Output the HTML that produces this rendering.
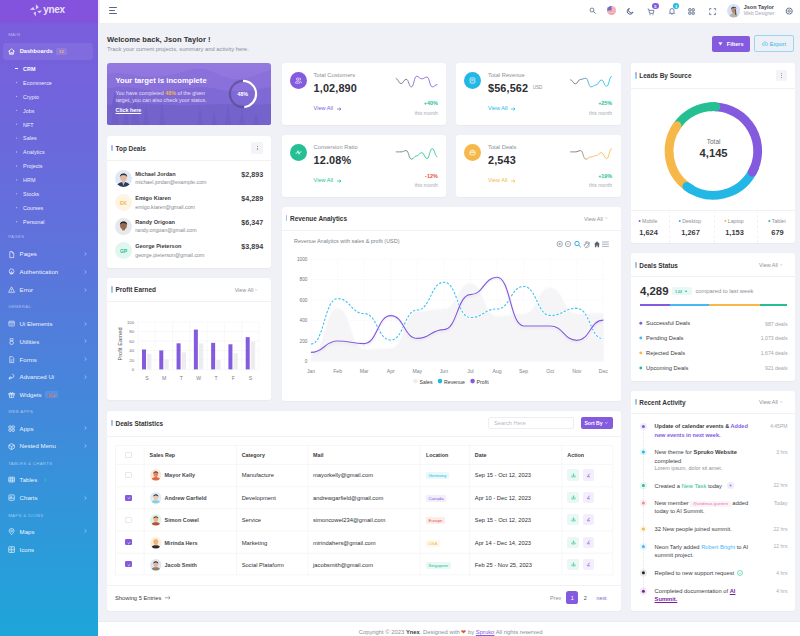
<!DOCTYPE html><html><head><meta charset="utf-8"><style>
html,body{margin:0;padding:0;width:800px;height:636px;overflow:hidden;background:#f0f1f7;font-family:"Liberation Sans",sans-serif;}
.t{position:absolute;white-space:nowrap;}
.card{position:absolute;background:#fff;border-radius:3px;box-shadow:0 0.5px 1.5px rgba(0,0,0,0.03);}
.hb{position:absolute;height:0;border-top:0.5px solid #f1f1f4;}
svg{position:absolute;overflow:visible;}
</style></head><body>

<div style="position:absolute;left:0;top:0;width:98px;height:636px;background:linear-gradient(180deg,#7d5bdc 0%,#5f72dc 38%,#1da6d9 100%);"></div>
<div style="position:absolute;left:0;top:0;width:98px;height:22.6px;background:#8453de;"></div>
<div style="position:absolute;left:98px;top:0;width:1.7px;height:636px;background:rgba(240,240,250,0.85);"></div>
<svg style="left:0;top:0" width="98" height="23">
<path d="M29.8 9.7 L33.2 7.0 L35.0 10.0 Z" fill="rgba(255,255,255,0.72)"/>
<path d="M35.9 4.2 L38.9 7.3 L35.9 9.4 Z" fill="rgba(255,255,255,0.72)"/>
<path d="M37.3 10.9 L42.2 10.6 L39.4 13.2 Z" fill="rgba(255,255,255,0.72)"/>
<path d="M33.4 13.0 L35.9 11.4 L35.9 16.4 Z" fill="rgba(255,255,255,0.72)"/>
</svg>
<div class="t" style="left:43.20px;top:4.90px;font-size:10px;line-height:10px;font-weight:700;color:rgba(255,255,255,0.85);letter-spacing:-0.3px;">ynex</div>
<div class="t" style="left:8.20px;top:33.25px;font-size:4.3px;line-height:4.3px;font-weight:400;color:rgba(255,255,255,0.5);letter-spacing:0.35px;">MAIN</div>
<div style="position:absolute;left:2.5px;top:43px;width:90px;height:16.5px;border-radius:3px;background:rgba(255,255,255,0.08);"></div>
<div class="t" style="left:19.70px;top:49.35px;font-size:5.7px;line-height:5.7px;font-weight:700;color:#fff;">Dashboards</div>
<div style="position:absolute;left:56px;top:48px;width:10.5px;height:7px;border-radius:1.5px;background:rgba(255,255,255,0.1);"></div>
<div class="t" style="left:61.20px;transform:translateX(-50%);top:50.20px;font-size:4.2px;line-height:4.2px;font-weight:700;color:#f7b84b;">12</div>
<svg style="left:8px;top:47.6px" width="7" height="7" viewBox="0 0 24 24"><path d="M2.5 11 L12 3 L21.5 11 M5 9 V21 H19 V9 M9.5 21 V15 H14.5 V21" fill="none" stroke="#fff" stroke-width="2.6" stroke-linejoin="round" stroke-linecap="round"/></svg>
<div style="position:absolute;left:15.10px;top:68.05px;width:3.30px;height:0.70px;background:rgba(255,255,255,0.95);"></div>
<div class="t" style="left:23.10px;top:66.70px;font-size:5.4px;line-height:5.4px;font-weight:700;color:#fff;">CRM</div>
<svg style="left:0;top:0" width="30" height="636"><circle cx="16.6" cy="82.50" r="0.65" fill="rgba(255,255,255,0.55)"/></svg>
<div class="t" style="left:23.10px;top:80.80px;font-size:5.4px;line-height:5.4px;font-weight:400;color:rgba(255,255,255,0.92);">Ecommerce</div>
<svg style="left:0;top:0" width="30" height="636"><circle cx="16.6" cy="96.40" r="0.65" fill="rgba(255,255,255,0.55)"/></svg>
<div class="t" style="left:23.10px;top:94.70px;font-size:5.4px;line-height:5.4px;font-weight:400;color:rgba(255,255,255,0.92);">Crypto</div>
<svg style="left:0;top:0" width="30" height="636"><circle cx="16.6" cy="110.30" r="0.65" fill="rgba(255,255,255,0.55)"/></svg>
<div class="t" style="left:23.10px;top:108.60px;font-size:5.4px;line-height:5.4px;font-weight:400;color:rgba(255,255,255,0.92);">Jobs</div>
<svg style="left:0;top:0" width="30" height="636"><circle cx="16.6" cy="124.20" r="0.65" fill="rgba(255,255,255,0.55)"/></svg>
<div class="t" style="left:23.10px;top:122.50px;font-size:5.4px;line-height:5.4px;font-weight:400;color:rgba(255,255,255,0.92);">NFT</div>
<svg style="left:0;top:0" width="30" height="636"><circle cx="16.6" cy="138.10" r="0.65" fill="rgba(255,255,255,0.55)"/></svg>
<div class="t" style="left:23.10px;top:136.40px;font-size:5.4px;line-height:5.4px;font-weight:400;color:rgba(255,255,255,0.92);">Sales</div>
<svg style="left:0;top:0" width="30" height="636"><circle cx="16.6" cy="152.00" r="0.65" fill="rgba(255,255,255,0.55)"/></svg>
<div class="t" style="left:23.10px;top:150.30px;font-size:5.4px;line-height:5.4px;font-weight:400;color:rgba(255,255,255,0.92);">Analytics</div>
<svg style="left:0;top:0" width="30" height="636"><circle cx="16.6" cy="166.00" r="0.65" fill="rgba(255,255,255,0.55)"/></svg>
<div class="t" style="left:23.10px;top:164.30px;font-size:5.4px;line-height:5.4px;font-weight:400;color:rgba(255,255,255,0.92);">Projects</div>
<svg style="left:0;top:0" width="30" height="636"><circle cx="16.6" cy="179.90" r="0.65" fill="rgba(255,255,255,0.55)"/></svg>
<div class="t" style="left:23.10px;top:178.20px;font-size:5.4px;line-height:5.4px;font-weight:400;color:rgba(255,255,255,0.92);">HRM</div>
<svg style="left:0;top:0" width="30" height="636"><circle cx="16.6" cy="193.80" r="0.65" fill="rgba(255,255,255,0.55)"/></svg>
<div class="t" style="left:23.10px;top:192.10px;font-size:5.4px;line-height:5.4px;font-weight:400;color:rgba(255,255,255,0.92);">Stocks</div>
<svg style="left:0;top:0" width="30" height="636"><circle cx="16.6" cy="207.70" r="0.65" fill="rgba(255,255,255,0.55)"/></svg>
<div class="t" style="left:23.10px;top:206.00px;font-size:5.4px;line-height:5.4px;font-weight:400;color:rgba(255,255,255,0.92);">Courses</div>
<svg style="left:0;top:0" width="30" height="636"><circle cx="16.6" cy="221.70" r="0.65" fill="rgba(255,255,255,0.55)"/></svg>
<div class="t" style="left:23.10px;top:220.00px;font-size:5.4px;line-height:5.4px;font-weight:400;color:rgba(255,255,255,0.92);">Personal</div>
<div class="t" style="left:8.20px;top:235.25px;font-size:4.3px;line-height:4.3px;font-weight:400;color:rgba(255,255,255,0.5);letter-spacing:0.35px;">PAGES</div>
<svg style="left:7.8px;top:250.5px" width="7.2" height="7.2" viewBox="0 0 24 24"><path d="M6 2 H14 L19 7 V22 H6 Z M14 2 V7 H19" fill="none" stroke="rgba(255,255,255,0.85)" stroke-width="2.4" stroke-linejoin="round"/></svg>
<div class="t" style="left:19.60px;top:251.45px;font-size:6.1px;line-height:6.1px;font-weight:400;color:rgba(255,255,255,0.94);">Pages</div>
<svg style="left:84.2px;top:252.1px" width="3" height="4" viewBox="0 0 3 4"><path d="M0.6 0.4 L2.3 2 L0.6 3.6" fill="none" stroke="rgba(255,255,255,0.7)" stroke-width="0.6"/></svg>
<svg style="left:7.8px;top:268.40000000000003px" width="7.2" height="7.2" viewBox="0 0 24 24"><circle cx="12" cy="11" r="8" fill="none" stroke="rgba(255,255,255,0.85)" stroke-width="2.4"/><path d="M8 21 V14 M12 22 V10 M16 21 V14" stroke="rgba(255,255,255,0.85)" stroke-width="2.2" fill="none"/></svg>
<div class="t" style="left:19.60px;top:269.35px;font-size:6.1px;line-height:6.1px;font-weight:400;color:rgba(255,255,255,0.94);">Authentication</div>
<svg style="left:84.2px;top:270.0px" width="3" height="4" viewBox="0 0 3 4"><path d="M0.6 0.4 L2.3 2 L0.6 3.6" fill="none" stroke="rgba(255,255,255,0.7)" stroke-width="0.6"/></svg>
<svg style="left:7.8px;top:286.1px" width="7.2" height="7.2" viewBox="0 0 24 24"><path d="M12 3 L22 21 H2 Z" fill="none" stroke="rgba(255,255,255,0.85)" stroke-width="2.4" stroke-linejoin="round"/><path d="M12 10 V15 M12 17.5 V19" stroke="rgba(255,255,255,0.85)" stroke-width="2.4"/></svg>
<div class="t" style="left:19.60px;top:287.05px;font-size:6.1px;line-height:6.1px;font-weight:400;color:rgba(255,255,255,0.94);">Error</div>
<svg style="left:84.2px;top:287.7px" width="3" height="4" viewBox="0 0 3 4"><path d="M0.6 0.4 L2.3 2 L0.6 3.6" fill="none" stroke="rgba(255,255,255,0.7)" stroke-width="0.6"/></svg>
<div class="t" style="left:8.20px;top:304.75px;font-size:4.3px;line-height:4.3px;font-weight:400;color:rgba(255,255,255,0.5);letter-spacing:0.35px;">GENERAL</div>
<svg style="left:7.8px;top:320.2px" width="7.2" height="7.2" viewBox="0 0 24 24"><rect x="3" y="4" width="18" height="16" rx="2" fill="none" stroke="rgba(255,255,255,0.85)" stroke-width="2.4"/><path d="M3 9 H21 M8 14 H16" stroke="rgba(255,255,255,0.85)" stroke-width="2.4"/></svg>
<div class="t" style="left:19.60px;top:321.15px;font-size:6.1px;line-height:6.1px;font-weight:400;color:rgba(255,255,255,0.94);">Ui Elements</div>
<svg style="left:84.2px;top:321.79999999999995px" width="3" height="4" viewBox="0 0 3 4"><path d="M0.6 0.4 L2.3 2 L0.6 3.6" fill="none" stroke="rgba(255,255,255,0.7)" stroke-width="0.6"/></svg>
<svg style="left:7.8px;top:337.8px" width="7.2" height="7.2" viewBox="0 0 24 24"><rect x="7" y="2" width="10" height="7" rx="1" fill="none" stroke="rgba(255,255,255,0.85)" stroke-width="2.4"/><circle cx="12" cy="16" r="6" fill="none" stroke="rgba(255,255,255,0.85)" stroke-width="2.4"/></svg>
<div class="t" style="left:19.60px;top:338.75px;font-size:6.1px;line-height:6.1px;font-weight:400;color:rgba(255,255,255,0.94);">Utilities</div>
<svg style="left:84.2px;top:339.4px" width="3" height="4" viewBox="0 0 3 4"><path d="M0.6 0.4 L2.3 2 L0.6 3.6" fill="none" stroke="rgba(255,255,255,0.7)" stroke-width="0.6"/></svg>
<svg style="left:7.8px;top:355.7px" width="7.2" height="7.2" viewBox="0 0 24 24"><path d="M6 2 H14 L19 7 V22 H6 Z" fill="none" stroke="rgba(255,255,255,0.85)" stroke-width="2.4" stroke-linejoin="round"/><path d="M9 13 H16 M9 17 H14" stroke="rgba(255,255,255,0.85)" stroke-width="2"/></svg>
<div class="t" style="left:19.60px;top:356.65px;font-size:6.1px;line-height:6.1px;font-weight:400;color:rgba(255,255,255,0.94);">Forms</div>
<svg style="left:84.2px;top:357.29999999999995px" width="3" height="4" viewBox="0 0 3 4"><path d="M0.6 0.4 L2.3 2 L0.6 3.6" fill="none" stroke="rgba(255,255,255,0.7)" stroke-width="0.6"/></svg>
<svg style="left:7.8px;top:373.40000000000003px" width="7.2" height="7.2" viewBox="0 0 24 24"><path d="M4 20 L10 14 M14 4 A6 6 0 1 1 8 12 L4 16 V20 H8 L12 16" fill="none" stroke="rgba(255,255,255,0.85)" stroke-width="2.4" stroke-linejoin="round"/></svg>
<div class="t" style="left:19.60px;top:374.35px;font-size:6.1px;line-height:6.1px;font-weight:400;color:rgba(255,255,255,0.94);">Advanced Ui</div>
<svg style="left:84.2px;top:375.0px" width="3" height="4" viewBox="0 0 3 4"><path d="M0.6 0.4 L2.3 2 L0.6 3.6" fill="none" stroke="rgba(255,255,255,0.7)" stroke-width="0.6"/></svg>
<svg style="left:7.8px;top:391.3px" width="7.2" height="7.2" viewBox="0 0 24 24"><rect x="3" y="8" width="18" height="5" fill="none" stroke="rgba(255,255,255,0.85)" stroke-width="2.4"/><path d="M5 13 V22 H19 V13 M12 8 V22 M12 8 C9 3 5 5 8 8 M12 8 C15 3 19 5 16 8" fill="none" stroke="rgba(255,255,255,0.85)" stroke-width="2.2"/></svg>
<div class="t" style="left:19.60px;top:392.25px;font-size:6.1px;line-height:6.1px;font-weight:400;color:rgba(255,255,255,0.94);">Widgets</div>
<div style="position:absolute;left:45.3px;top:391.4px;width:12.6px;height:6.3px;border-radius:1.5px;background:rgba(255,255,255,0.1);"></div>
<div class="t" style="left:51.60px;transform:translateX(-50%);top:393.55px;font-size:3.9px;line-height:3.9px;font-weight:700;color:#f0664e;">Hot</div>
<div class="t" style="left:8.20px;top:409.85px;font-size:4.3px;line-height:4.3px;font-weight:400;color:rgba(255,255,255,0.5);letter-spacing:0.35px;">WEB APPS</div>
<svg style="left:7.8px;top:424.7px" width="7.2" height="7.2" viewBox="0 0 24 24"><rect x="3" y="3" width="7.5" height="7.5" rx="1" fill="none" stroke="rgba(255,255,255,0.85)" stroke-width="2.4"/><rect x="13.5" y="3" width="7.5" height="7.5" rx="1" fill="none" stroke="rgba(255,255,255,0.85)" stroke-width="2.4"/><rect x="3" y="13.5" width="7.5" height="7.5" rx="1" fill="none" stroke="rgba(255,255,255,0.85)" stroke-width="2.4"/><rect x="13.5" y="13.5" width="7.5" height="7.5" rx="1" fill="none" stroke="rgba(255,255,255,0.85)" stroke-width="2.4"/></svg>
<div class="t" style="left:19.60px;top:425.65px;font-size:6.1px;line-height:6.1px;font-weight:400;color:rgba(255,255,255,0.94);">Apps</div>
<svg style="left:84.2px;top:426.29999999999995px" width="3" height="4" viewBox="0 0 3 4"><path d="M0.6 0.4 L2.3 2 L0.6 3.6" fill="none" stroke="rgba(255,255,255,0.7)" stroke-width="0.6"/></svg>
<svg style="left:7.8px;top:442.5px" width="7.2" height="7.2" viewBox="0 0 24 24"><path d="M12 2 L21 7 V17 L12 22 L3 17 V7 Z M3 7 L12 12 L21 7 M12 12 V22" fill="none" stroke="rgba(255,255,255,0.85)" stroke-width="2.4" stroke-linejoin="round"/></svg>
<div class="t" style="left:19.60px;top:443.45px;font-size:6.1px;line-height:6.1px;font-weight:400;color:rgba(255,255,255,0.94);">Nested Menu</div>
<svg style="left:84.2px;top:444.09999999999997px" width="3" height="4" viewBox="0 0 3 4"><path d="M0.6 0.4 L2.3 2 L0.6 3.6" fill="none" stroke="rgba(255,255,255,0.7)" stroke-width="0.6"/></svg>
<div class="t" style="left:8.20px;top:462.05px;font-size:4.3px;line-height:4.3px;font-weight:400;color:rgba(255,255,255,0.5);letter-spacing:0.35px;">TABLES &amp; CHARTS</div>
<svg style="left:7.8px;top:476.0px" width="7.2" height="7.2" viewBox="0 0 24 24"><rect x="2.5" y="4" width="19" height="16" rx="1.5" fill="none" stroke="rgba(255,255,255,0.85)" stroke-width="2.4"/><path d="M2.5 9.5 H21.5 M2.5 14.5 H21.5 M9 4 V20 M15 4 V20" stroke="rgba(255,255,255,0.85)" stroke-width="2"/></svg>
<div class="t" style="left:19.60px;top:476.95px;font-size:6.1px;line-height:6.1px;font-weight:400;color:rgba(255,255,255,0.94);">Tables</div>
<svg style="left:43.6px;top:477.6px" width="3" height="4" viewBox="0 0 3 4"><path d="M0.6 0.4 L2.3 2 L0.6 3.6" fill="none" stroke="#2fd39a" stroke-width="0.8"/></svg>
<svg style="left:7.8px;top:494.2px" width="7.2" height="7.2" viewBox="0 0 24 24"><rect x="3" y="3" width="18" height="18" rx="2" fill="none" stroke="rgba(255,255,255,0.85)" stroke-width="2.4"/><path d="M3 14 H21 M8 14 V8 M12 14 V6" stroke="rgba(255,255,255,0.85)" stroke-width="2.2"/></svg>
<div class="t" style="left:19.60px;top:495.15px;font-size:6.1px;line-height:6.1px;font-weight:400;color:rgba(255,255,255,0.94);">Charts</div>
<svg style="left:84.2px;top:495.79999999999995px" width="3" height="4" viewBox="0 0 3 4"><path d="M0.6 0.4 L2.3 2 L0.6 3.6" fill="none" stroke="rgba(255,255,255,0.7)" stroke-width="0.6"/></svg>
<div class="t" style="left:8.20px;top:513.75px;font-size:4.3px;line-height:4.3px;font-weight:400;color:rgba(255,255,255,0.5);letter-spacing:0.35px;">MAPS &amp; ICONS</div>
<svg style="left:7.8px;top:527.6999999999999px" width="7.2" height="7.2" viewBox="0 0 24 24"><path d="M12 22 C5 15 4 12 4 9.5 A8 8 0 0 1 20 9.5 C20 12 19 15 12 22 Z" fill="none" stroke="rgba(255,255,255,0.85)" stroke-width="2.4"/><circle cx="12" cy="10" r="3" fill="none" stroke="rgba(255,255,255,0.85)" stroke-width="2.2"/></svg>
<div class="t" style="left:19.60px;top:528.65px;font-size:6.1px;line-height:6.1px;font-weight:400;color:rgba(255,255,255,0.94);">Maps</div>
<svg style="left:84.2px;top:529.3px" width="3" height="4" viewBox="0 0 3 4"><path d="M0.6 0.4 L2.3 2 L0.6 3.6" fill="none" stroke="rgba(255,255,255,0.7)" stroke-width="0.6"/></svg>
<svg style="left:7.8px;top:545.8px" width="7.2" height="7.2" viewBox="0 0 24 24"><rect x="2.5" y="2.5" width="19" height="19" rx="1.5" fill="none" stroke="rgba(255,255,255,0.85)" stroke-width="2.4"/><path d="M2.5 12 H21.5 M12 2.5 V21.5 M6 6 L8.5 8.5 M15.5 6 L18 8.5 M6 16 H9 M15 16 H18" stroke="rgba(255,255,255,0.85)" stroke-width="2"/></svg>
<div class="t" style="left:19.60px;top:546.75px;font-size:6.1px;line-height:6.1px;font-weight:400;color:rgba(255,255,255,0.94);">Icons</div>
<div style="position:absolute;left:99.70px;top:0.00px;width:700.30px;height:22.60px;background:#fff;box-shadow:0 0.5px 0 #ebebf2;"></div>
<div style="position:absolute;left:109.30px;top:7.40px;width:7.30px;height:0.80px;background:#536485;border-radius:0.4px;"></div>
<div style="position:absolute;left:109.30px;top:10.40px;width:6.20px;height:0.80px;background:#536485;border-radius:0.4px;"></div>
<div style="position:absolute;left:109.30px;top:13.40px;width:7.30px;height:0.80px;background:#536485;border-radius:0.4px;"></div>
<svg style="left:588.5px;top:7.4px" width="7.2" height="7.2" viewBox="0 0 24 24"><circle cx="10" cy="10" r="6.5" fill="none" stroke="#536485" stroke-width="2.6"/><path d="M15 15 L21 21" stroke="#536485" stroke-width="2.8" stroke-linecap="round"/></svg>
<svg style="left:607.3px;top:6.3px" width="9" height="9" viewBox="0 0 20 20"><defs><clipPath id="fc"><circle cx="10" cy="10" r="10"/></clipPath></defs><g clip-path="url(#fc)"><rect width="20" height="20" fill="#f2a3ab"/><rect y="3" width="20" height="2" fill="#f7c2c7"/><rect y="8" width="20" height="2" fill="#f7c2c7"/><rect y="13" width="20" height="2" fill="#f7c2c7"/><rect width="10" height="10" fill="#6f6fc0"/></g></svg>
<svg style="left:626.2px;top:6.8px" width="8.4" height="8.4" viewBox="0 0 24 24"><path d="M20 14.5 A8.5 8.5 0 1 1 9.5 4 A7 7 0 0 0 20 14.5 Z" fill="none" stroke="#536485" stroke-width="2.8" stroke-linejoin="round"/></svg>
<svg style="left:646.6px;top:8px" width="8" height="8" viewBox="0 0 24 24"><path d="M2 3 H5 L8 16 H19 L21 7 H6.5" fill="none" stroke="#536485" stroke-width="2.3" stroke-linejoin="round"/><circle cx="9" cy="20" r="1.6" fill="#536485"/><circle cx="18" cy="20" r="1.6" fill="#536485"/></svg>
<div style="position:absolute;left:652.20px;top:2.90px;width:6.50px;height:6.50px;background:#845adf;border-radius:50%;"></div>
<div class="t" style="left:655.40px;transform:translateX(-50%);top:5.15px;font-size:3.9px;line-height:3.9px;font-weight:700;color:#fff;">5</div>
<svg style="left:667.6px;top:7.3px" width="8" height="8" viewBox="0 0 24 24"><path d="M6 17 V10.5 A6 6 0 0 1 18 10.5 V17 L20 19 H4 Z M10 21.5 H14" fill="none" stroke="#536485" stroke-width="2.3" stroke-linejoin="round"/></svg>
<div style="position:absolute;left:672.80px;top:2.90px;width:6.50px;height:6.50px;background:#23b7e5;border-radius:50%;"></div>
<div class="t" style="left:676.00px;transform:translateX(-50%);top:5.15px;font-size:3.9px;line-height:3.9px;font-weight:700;color:#fff;">3</div>
<svg style="left:688.3px;top:8.1px" width="7" height="7" viewBox="0 0 24 24"><rect x="2.5" y="2.5" width="7.5" height="7.5" rx="0.8" fill="none" stroke="#536485" stroke-width="2.8"/><rect x="14" y="2.5" width="7.5" height="7.5" rx="0.8" fill="none" stroke="#536485" stroke-width="2.8"/><rect x="2.5" y="14" width="7.5" height="7.5" rx="0.8" fill="none" stroke="#536485" stroke-width="2.8"/><rect x="14" y="14" width="7.5" height="7.5" rx="0.8" fill="none" stroke="#536485" stroke-width="2.8"/></svg>
<svg style="left:708.8px;top:7.6px" width="7.2" height="7.2" viewBox="0 0 24 24"><path d="M2 8 V2 H8 M16 2 H22 V8 M22 16 V22 H16 M8 22 H2 V16" fill="none" stroke="#536485" stroke-width="2.6"/></svg>
<svg style="left:726.7px;top:4px" width="13.4" height="13.4" viewBox="0 0 40 40"><defs><clipPath id="av"><circle cx="20" cy="20" r="20"/></clipPath></defs><g clip-path="url(#av)"><rect width="40" height="40" fill="#d6e1f6"/><path d="M6 42 C7 32 13 28 20 28 C27 28 33 32 34 42 Z" fill="#bdb3a4"/><rect x="17" y="23" width="6" height="6" fill="#b58a6c"/><ellipse cx="19.5" cy="18" rx="6.5" ry="7.5" fill="#b58a6c"/><path d="M12 17 C10 6 29 5 27.5 15 C26 10 14 10 12 17 Z" fill="#22232a"/><path d="M25 14 C28 18 27 26 28 32 L25 32 C24 26 26 20 24 16 Z" fill="#22232a"/></g></svg>
<div class="t" style="left:743.80px;top:5.07px;font-size:5.45px;line-height:5.45px;font-weight:700;color:#3d4250;">Json Taylor</div>
<div class="t" style="left:743.80px;top:11.77px;font-size:4.85px;line-height:4.85px;font-weight:400;color:#a3a8b3;">Web Designer</div>
<svg style="left:784.6px;top:6.9px" width="8.4" height="8.4" viewBox="0 0 24 24"><path d="M12 2 L14 4.6 L17.3 3.8 L18 7.1 L21 8.6 L19.6 11.7 L21 14.8 L18 16.3 L17.3 19.6 L14 18.8 L12 21.4 L10 18.8 L6.7 19.6 L6 16.3 L3 14.8 L4.4 11.7 L3 8.6 L6 7.1 L6.7 3.8 L10 4.6 Z" fill="none" stroke="#536485" stroke-width="2.5" stroke-linejoin="round"/><circle cx="12" cy="11.7" r="3.3" fill="none" stroke="#536485" stroke-width="2.3"/></svg>
<div class="t" style="left:107.00px;top:36.10px;font-size:7.6px;line-height:7.6px;font-weight:700;color:#333335;">Welcome back, Json Taylor !</div>
<div class="t" style="left:107.00px;top:47.19px;font-size:5.83px;line-height:5.83px;font-weight:400;color:#8c9097;">Track your current projects, summary and activity here.</div>
<div style="position:absolute;left:711.90px;top:35.80px;width:38.10px;height:15.90px;background:#845adf;border-radius:2px;"></div>
<svg style="left:718.3px;top:41.9px" width="4.8" height="3.8" viewBox="0 0 10 8"><path d="M0.5 0.5 H9.5 L5 7.5 Z" fill="rgba(255,255,255,0.9)"/></svg>
<div class="t" style="left:726.80px;top:41.80px;font-size:5.6px;line-height:5.6px;font-weight:700;color:#fff;">Filters</div>
<div style="position:absolute;left:753.50px;top:35.40px;width:40.00px;height:16.30px;background:rgba(35,183,229,0.015);border:0.9px solid rgba(35,183,229,0.42);border-radius:2.2px;box-sizing:border-box;"></div>
<svg style="left:761.6px;top:40.6px" width="6" height="6" viewBox="0 0 24 24"><path d="M7 18 H6 A4.5 4.5 0 0 1 5.5 9 A6.5 6.5 0 0 1 18 8 A5 5 0 0 1 18 18 H17 M12 11 V20 M9 14 L12 11 L15 14" fill="none" stroke="#23b7e5" stroke-width="2.2" stroke-linejoin="round"/></svg>
<div class="t" style="left:769.80px;top:41.80px;font-size:5.6px;line-height:5.6px;font-weight:400;color:#23b7e5;">Export</div>
<div style="position:absolute;left:107px;top:63px;width:164.3px;height:62.2px;border-radius:3px;overflow:hidden;background:linear-gradient(180deg,#9479e0 0%,#8d73dc 40%,#7a66d2 100%);">
<svg style="left:0;top:0" width="165" height="63" viewBox="0 0 165 63">
<path d="M0 12 C15 6 30 16 50 14 C70 12 85 4 97 6 C108 8 118 18 135 16 C150 14 158 6 165 8 V63 H0 Z" fill="#8a70da"/>
<path d="M0 26 C20 20 40 30 60 28 C80 26 95 22 110 26 C130 31 150 26 165 24 V63 H0 Z" fill="#7f69d4"/>
<path d="M0 42 C30 38 60 44 90 42 C120 40 145 43 165 41 V63 H0 Z" fill="#7463cb"/>
<g fill="#6e5dc6" opacity="0.8">
<path d="M4 63 L6 44 L3 50 L8 28 L13 50 L10 44 L12 63 Z"/>
<path d="M16 63 L19 36 L22 63 Z"/>
<path d="M24 63 L27 30 L30 48 L33 63 Z"/>
<path d="M36 63 L39 42 L42 63 Z"/>
<path d="M52 63 L55 38 L58 63 Z"/>
<path d="M90 63 L93 44 L96 63 Z"/>
<path d="M104 63 L107 48 L110 63 Z"/>
<path d="M118 63 L121 40 L124 63 Z"/>
<path d="M132 63 L135 46 L138 63 Z"/>
<path d="M146 63 L149 50 L152 63 Z"/>
</g></svg></div>
<div class="t" style="left:115.50px;top:76.77px;font-size:7.65px;line-height:7.65px;font-weight:700;color:#fff;">Your target is incomplete</div>
<div class="t" style="left:115.50px;top:90.62px;font-size:5.35px;line-height:5.35px;font-weight:400;color:rgba(255,255,255,0.82);">You have completed <span style="color:#f5b849;font-weight:700">48%</span> of the given</div>
<div class="t" style="left:115.50px;top:98.23px;font-size:5.35px;line-height:5.35px;font-weight:400;color:rgba(255,255,255,0.82);">target, you can also check your status.</div>
<div class="t" style="left:115.50px;top:108.20px;font-size:5.4px;line-height:5.4px;font-weight:700;color:#fff;text-decoration:underline;">Click here</div>
<svg style="left:226.5px;top:77.8px" width="32" height="32" viewBox="0 0 32 32"><circle cx="16" cy="16" r="13.1" fill="none" stroke="rgba(80,70,130,0.6)" stroke-width="2.2"/><circle cx="16" cy="16" r="13.1" fill="none" stroke="#fff" stroke-width="2.2" stroke-dasharray="39.51 82.31" transform="rotate(-90 16 16)"/></svg>
<div class="t" style="left:242.60px;transform:translateX(-50%);top:91.90px;font-size:5.4px;line-height:5.4px;font-weight:700;color:#fff;">48%</div>
<div class="card" style="left:281.5px;top:63px;width:164.7px;height:62.2px;"></div>
<div style="position:absolute;left:289.9px;top:71.6px;width:17px;height:17px;border-radius:50%;background:#845adf;"></div>
<svg style="left:294.9px;top:76.6px" width="7" height="7" viewBox="0 0 24 24"><path d="M9 11 A4 4 0 1 0 9 3 A4 4 0 0 0 9 11 Z M2 21 C2 16 5 14 9 14 C13 14 16 16 16 21 Z M15 3 A4 4 0 0 1 15 11 M18 14 C21 15 22 17 22 21" fill="none" stroke="#fff" stroke-width="2.2"/></svg>
<div class="t" style="left:313.60px;top:72.92px;font-size:5.75px;line-height:5.75px;font-weight:400;color:#8c9097;">Total Customers</div>
<div class="t" style="left:313.60px;top:82.55px;font-size:10.9px;line-height:10.9px;font-weight:700;color:#2d2d32;letter-spacing:0.12px;">1,02,890</div>
<div class="t" style="left:313.60px;top:105.90px;font-size:5.6px;line-height:5.6px;font-weight:400;color:#845adf;">View All</div>
<svg style="left:337.0px;top:106.5px" width="5" height="4" viewBox="0 0 10 8"><path d="M0 4 H8 M5 1 L8 4 L5 7" fill="none" stroke="#845adf" stroke-width="1.5"/></svg>
<div class="t" style="right:362.30px;top:101.30px;font-size:5.4px;line-height:5.4px;font-weight:700;color:#26bf94;">+40%</div>
<div class="t" style="right:362.30px;top:110.50px;font-size:5.0px;line-height:5.0px;font-weight:400;color:#a8abb2;">this month</div>
<svg style="left:0;top:0" width="800" height="636"><defs><linearGradient id="sg281_63" gradientUnits="userSpaceOnUse" x1="395.8" x2="437.4" y1="0" y2="0"><stop offset="0" stop-color="#77777d"/><stop offset="0.2" stop-color="#6a6a70"/><stop offset="0.5" stop-color="#845adf"/></linearGradient></defs><path d="M395.80 78.53 C398.40 78.53 398.40 83.61 401.00 83.61 C403.60 83.61 403.60 79.27 406.20 79.27 C408.80 79.27 408.80 86.90 411.40 86.90 C414.00 86.90 414.00 76.30 416.60 76.30 C419.20 76.30 419.20 78.84 421.80 78.84 C424.40 78.84 424.40 77.04 427.00 77.04 C429.60 77.04 429.60 86.90 432.20 86.90 C434.80 86.90 434.80 84.67 437.40 84.67" fill="none" stroke="url(#sg281_63)" stroke-width="0.85"/></svg>
<div class="card" style="left:455.9px;top:63px;width:164.7px;height:62.2px;"></div>
<div style="position:absolute;left:464.29999999999995px;top:71.6px;width:17px;height:17px;border-radius:50%;background:#23b7e5;"></div>
<svg style="left:469.29999999999995px;top:76.6px" width="7" height="7" viewBox="0 0 24 24"><rect x="4" y="3" width="16" height="18" rx="3" fill="none" stroke="#fff" stroke-width="2.4"/><path d="M8 9 H16 M8 13 H16" stroke="#fff" stroke-width="2"/></svg>
<div class="t" style="left:488.00px;top:72.92px;font-size:5.75px;line-height:5.75px;font-weight:400;color:#8c9097;">Total Revenue</div>
<div class="t" style="left:488.00px;top:82.55px;font-size:10.9px;line-height:10.9px;font-weight:700;color:#2d2d32;letter-spacing:0.12px;">$56,562</div>
<div class="t" style="left:532.70px;top:86.10px;font-size:4.6px;line-height:4.6px;font-weight:400;color:#8c9097;">USD</div>
<div class="t" style="left:488.00px;top:105.90px;font-size:5.6px;line-height:5.6px;font-weight:400;color:#23b7e5;">View All</div>
<svg style="left:511.4px;top:106.5px" width="5" height="4" viewBox="0 0 10 8"><path d="M0 4 H8 M5 1 L8 4 L5 7" fill="none" stroke="#23b7e5" stroke-width="1.5"/></svg>
<div class="t" style="right:187.90px;top:101.30px;font-size:5.4px;line-height:5.4px;font-weight:700;color:#26bf94;">+25%</div>
<div class="t" style="right:187.90px;top:110.50px;font-size:5.0px;line-height:5.0px;font-weight:400;color:#a8abb2;">this month</div>
<svg style="left:0;top:0" width="800" height="636"><defs><linearGradient id="sg455_63" gradientUnits="userSpaceOnUse" x1="570.1999999999999" x2="611.8" y1="0" y2="0"><stop offset="0" stop-color="#77777d"/><stop offset="0.2" stop-color="#6a6a70"/><stop offset="0.5" stop-color="#23b7e5"/></linearGradient></defs><path d="M570.20 79.69 C572.80 79.69 572.80 83.83 575.40 83.83 C578.00 83.83 578.00 79.37 580.60 79.37 C583.20 79.37 583.20 78.31 585.80 78.31 C588.40 78.31 588.40 86.90 591.00 86.90 C593.60 86.90 593.60 84.89 596.20 84.89 C598.80 84.89 598.80 80.01 601.40 80.01 C604.00 80.01 604.00 86.26 606.60 86.26 C609.20 86.26 609.20 76.30 611.80 76.30" fill="none" stroke="url(#sg455_63)" stroke-width="0.85"/></svg>
<div class="card" style="left:281.5px;top:135.3px;width:164.7px;height:62.2px;"></div>
<div style="position:absolute;left:289.9px;top:143.9px;width:17px;height:17px;border-radius:50%;background:#26bf94;"></div>
<svg style="left:294.9px;top:148.9px" width="7" height="7" viewBox="0 0 24 24"><path d="M2 14 L7 14 L10 6 L14 18 L17 10 L22 10" fill="none" stroke="#fff" stroke-width="2.6" stroke-linejoin="round"/></svg>
<div class="t" style="left:313.60px;top:145.23px;font-size:5.75px;line-height:5.75px;font-weight:400;color:#8c9097;">Conversion Ratio</div>
<div class="t" style="left:313.60px;top:154.85px;font-size:10.9px;line-height:10.9px;font-weight:700;color:#2d2d32;letter-spacing:0.12px;">12.08%</div>
<div class="t" style="left:313.60px;top:178.20px;font-size:5.6px;line-height:5.6px;font-weight:400;color:#26bf94;">View All</div>
<svg style="left:337.0px;top:178.8px" width="5" height="4" viewBox="0 0 10 8"><path d="M0 4 H8 M5 1 L8 4 L5 7" fill="none" stroke="#26bf94" stroke-width="1.5"/></svg>
<div class="t" style="right:362.30px;top:173.60px;font-size:5.4px;line-height:5.4px;font-weight:700;color:#e6533c;">-12%</div>
<div class="t" style="right:362.30px;top:182.80px;font-size:5.0px;line-height:5.0px;font-weight:400;color:#a8abb2;">this month</div>
<svg style="left:0;top:0" width="800" height="636"><defs><linearGradient id="sg281_135" gradientUnits="userSpaceOnUse" x1="395.8" x2="437.4" y1="0" y2="0"><stop offset="0" stop-color="#77777d"/><stop offset="0.2" stop-color="#6a6a70"/><stop offset="0.5" stop-color="#26bf94"/></linearGradient></defs><path d="M395.80 151.89 C398.40 151.89 398.40 151.89 401.00 151.89 C403.60 151.89 403.60 150.61 406.20 150.61 C408.80 150.61 408.80 159.20 411.40 159.20 C414.00 159.20 414.00 155.91 416.60 155.91 C419.20 155.91 419.20 152.63 421.80 152.63 C424.40 152.63 424.40 158.56 427.00 158.56 C429.60 158.56 429.60 148.60 432.20 148.60 C434.80 148.60 434.80 156.87 437.40 156.87" fill="none" stroke="url(#sg281_135)" stroke-width="0.85"/></svg>
<div class="card" style="left:455.9px;top:135.3px;width:164.7px;height:62.2px;"></div>
<div style="position:absolute;left:464.29999999999995px;top:143.9px;width:17px;height:17px;border-radius:50%;background:#f5b849;"></div>
<svg style="left:469.29999999999995px;top:148.9px" width="7" height="7" viewBox="0 0 24 24"><rect x="3" y="7" width="18" height="13" rx="2" fill="none" stroke="#fff" stroke-width="2.4"/><path d="M9 7 V4 H15 V7 M3 12 H21" stroke="#fff" stroke-width="2.2" fill="none"/></svg>
<div class="t" style="left:488.00px;top:145.23px;font-size:5.75px;line-height:5.75px;font-weight:400;color:#8c9097;">Total Deals</div>
<div class="t" style="left:488.00px;top:154.85px;font-size:10.9px;line-height:10.9px;font-weight:700;color:#2d2d32;letter-spacing:0.12px;">2,543</div>
<div class="t" style="left:488.00px;top:178.20px;font-size:5.6px;line-height:5.6px;font-weight:400;color:#f5b849;">View All</div>
<svg style="left:511.4px;top:178.8px" width="5" height="4" viewBox="0 0 10 8"><path d="M0 4 H8 M5 1 L8 4 L5 7" fill="none" stroke="#f5b849" stroke-width="1.5"/></svg>
<div class="t" style="right:187.90px;top:173.60px;font-size:5.4px;line-height:5.4px;font-weight:700;color:#26bf94;">+19%</div>
<div class="t" style="right:187.90px;top:182.80px;font-size:5.0px;line-height:5.0px;font-weight:400;color:#a8abb2;">this month</div>
<svg style="left:0;top:0" width="800" height="636"><defs><linearGradient id="sg455_135" gradientUnits="userSpaceOnUse" x1="570.1999999999999" x2="611.8" y1="0" y2="0"><stop offset="0" stop-color="#77777d"/><stop offset="0.2" stop-color="#6a6a70"/><stop offset="0.5" stop-color="#f5b849"/></linearGradient></defs><path d="M570.20 151.89 C572.80 151.89 572.80 151.89 575.40 151.89 C578.00 151.89 578.00 150.61 580.60 150.61 C583.20 150.61 583.20 159.20 585.80 159.20 C588.40 159.20 588.40 156.87 591.00 156.87 C593.60 156.87 593.60 155.60 596.20 155.60 C598.80 155.60 598.80 152.63 601.40 152.63 C604.00 152.63 604.00 158.56 606.60 158.56 C609.20 158.56 609.20 148.60 611.80 148.60" fill="none" stroke="url(#sg455_135)" stroke-width="0.85"/></svg>
<div class="card" style="left:107px;top:135.5px;width:164.3px;height:132.3px;"></div>
<div style="position:absolute;left:111.2px;top:144.90px;width:1.5px;height:6.6px;border-radius:1px;background:linear-gradient(180deg,rgba(132,90,223,0.55) 0%,rgba(132,90,223,0.5) 45%,rgba(35,183,229,0.55) 55%,rgba(35,183,229,0.6) 100%);"></div>
<div class="t" style="left:115.50px;top:145.98px;font-size:6.45px;line-height:6.45px;font-weight:700;color:#333335;">Top Deals</div>
<div class="hb" style="left:107px;top:160.4px;width:164.3px;"></div>
<div style="position:absolute;left:251.40px;top:142.40px;width:11.50px;height:11.50px;background:#f3f4f7;border-radius:2px;"></div>
<div style="position:absolute;left:256.75px;top:146.00px;width:0.80px;height:0.80px;background:#6b6f78;border-radius:50%;"></div>
<div style="position:absolute;left:256.75px;top:147.60px;width:0.80px;height:0.80px;background:#6b6f78;border-radius:50%;"></div>
<div style="position:absolute;left:256.75px;top:149.20px;width:0.80px;height:0.80px;background:#6b6f78;border-radius:50%;"></div>
<svg style="left:115px;top:169.7px" width="17" height="17" viewBox="0 0 40 40"><defs><clipPath id="fc115169"><circle cx="20" cy="20" r="20"/></clipPath></defs><g clip-path="url(#fc115169)"><rect width="40" height="40" fill="#dde9f8"/><path d="M3 42 C4 32 11 28 20 28 C29 28 36 32 37 42 Z" fill="#2d3a5a"/><path d="M16.5 28 L20 37 L23.5 28 Z" fill="#a9c4e8"/><rect x="16.5" y="22" width="7" height="7" fill="#e8b89a"/><ellipse cx="20" cy="17.5" rx="8" ry="9" fill="#e8b89a"/><path d="M11.5 17 C9.5 5 30.5 5 28.5 17 C27 10 13 10 11.5 17 Z" fill="#2b2b33"/></g></svg>
<div class="t" style="left:135.20px;top:172.02px;font-size:5.55px;line-height:5.55px;font-weight:700;color:#3a3a40;">Michael Jordan</div>
<div class="t" style="left:135.20px;top:180.45px;font-size:5.3px;line-height:5.3px;font-weight:400;color:#868a92;">michael.jordan@example.com</div>
<div class="t" style="right:536.90px;top:171.72px;font-size:7.15px;line-height:7.15px;font-weight:700;color:#404046;">$2,893</div>
<div style="position:absolute;left:115px;top:194.1px;width:17px;height:17px;border-radius:50%;background:#fef4e4;"></div>
<div class="t" style="left:123.50px;transform:translateX(-50%);top:201.30px;font-size:5.0px;line-height:5.0px;font-weight:700;color:#f5b849;">EK</div>
<div class="t" style="left:135.20px;top:196.42px;font-size:5.55px;line-height:5.55px;font-weight:700;color:#3a3a40;">Emigo Kiaren</div>
<div class="t" style="left:135.20px;top:204.85px;font-size:5.3px;line-height:5.3px;font-weight:400;color:#868a92;">emigo.kiaren@gmail.com</div>
<div class="t" style="right:536.90px;top:196.12px;font-size:7.15px;line-height:7.15px;font-weight:700;color:#404046;">$4,289</div>
<svg style="left:115px;top:217.5px" width="17" height="17" viewBox="0 0 40 40"><defs><clipPath id="fc115217"><circle cx="20" cy="20" r="20"/></clipPath></defs><g clip-path="url(#fc115217)"><rect width="40" height="40" fill="#e4e9f0"/><path d="M3 42 C4 32 11 28 20 28 C29 28 36 32 37 42 Z" fill="#e8e8e8"/><path d="M16.5 28 L20 37 L23.5 28 Z" fill="#e8e8e8"/><rect x="16.5" y="22" width="7" height="7" fill="#9a6a4e"/><ellipse cx="20" cy="17.5" rx="8" ry="9" fill="#9a6a4e"/><path d="M11.5 17 C9.5 5 30.5 5 28.5 17 C27 10 13 10 11.5 17 Z" fill="#2a2220"/></g></svg>
<div class="t" style="left:135.20px;top:219.82px;font-size:5.55px;line-height:5.55px;font-weight:700;color:#3a3a40;">Randy Origoan</div>
<div class="t" style="left:135.20px;top:228.25px;font-size:5.3px;line-height:5.3px;font-weight:400;color:#868a92;">randy.origoan@gmail.com</div>
<div class="t" style="right:536.90px;top:219.53px;font-size:7.15px;line-height:7.15px;font-weight:700;color:#404046;">$6,347</div>
<div style="position:absolute;left:115px;top:241.9px;width:17px;height:17px;border-radius:50%;background:#e2f6f0;"></div>
<div class="t" style="left:123.50px;transform:translateX(-50%);top:249.10px;font-size:5.0px;line-height:5.0px;font-weight:700;color:#26bf94;">GP</div>
<div class="t" style="left:135.20px;top:244.22px;font-size:5.55px;line-height:5.55px;font-weight:700;color:#3a3a40;">George Pieterson</div>
<div class="t" style="left:135.20px;top:252.65px;font-size:5.3px;line-height:5.3px;font-weight:400;color:#868a92;">george.pieterson@gmail.com</div>
<div class="t" style="right:536.90px;top:243.93px;font-size:7.15px;line-height:7.15px;font-weight:700;color:#404046;">$3,894</div>
<div class="card" style="left:107px;top:277.8px;width:164.3px;height:122.5px;"></div>
<div style="position:absolute;left:111.2px;top:286.10px;width:1.5px;height:6.6px;border-radius:1px;background:linear-gradient(180deg,rgba(132,90,223,0.55) 0%,rgba(132,90,223,0.5) 45%,rgba(35,183,229,0.55) 55%,rgba(35,183,229,0.6) 100%);"></div>
<div class="t" style="left:115.50px;top:287.18px;font-size:6.45px;line-height:6.45px;font-weight:700;color:#333335;">Profit Earned</div>
<div class="hb" style="left:107px;top:300.8px;width:164.3px;"></div>
<div class="t" style="right:546.60px;top:287.90px;font-size:5.4px;line-height:5.4px;font-weight:400;color:#8c9097;">View All</div>
<svg style="left:255.40000000000003px;top:288.6px" width="2.6" height="1.8" viewBox="0 0 4 3"><path d="M0.4 0.5 L2 2.2 L3.6 0.5" fill="none" stroke="#8c9097" stroke-width="0.7"/></svg>
<svg style="left:0;top:0" width="800" height="636"><line x1="138" x2="259" y1="322.00" y2="322.00" stroke="#f1f1f3" stroke-width="0.5"/><line x1="138" x2="259" y1="331.48" y2="331.48" stroke="#f1f1f3" stroke-width="0.5"/><line x1="138" x2="259" y1="340.96" y2="340.96" stroke="#f1f1f3" stroke-width="0.5"/><line x1="138" x2="259" y1="350.44" y2="350.44" stroke="#f1f1f3" stroke-width="0.5"/><line x1="138" x2="259" y1="359.92" y2="359.92" stroke="#f1f1f3" stroke-width="0.5"/><line x1="138" x2="259" y1="369.40" y2="369.40" stroke="#f1f1f3" stroke-width="0.5"/><line x1="138.00" x2="138.00" y1="322" y2="369.4" stroke="#f1f1f3" stroke-width="0.5"/><line x1="155.29" x2="155.29" y1="322" y2="369.4" stroke="#f1f1f3" stroke-width="0.5"/><line x1="172.57" x2="172.57" y1="322" y2="369.4" stroke="#f1f1f3" stroke-width="0.5"/><line x1="189.86" x2="189.86" y1="322" y2="369.4" stroke="#f1f1f3" stroke-width="0.5"/><line x1="207.14" x2="207.14" y1="322" y2="369.4" stroke="#f1f1f3" stroke-width="0.5"/><line x1="224.43" x2="224.43" y1="322" y2="369.4" stroke="#f1f1f3" stroke-width="0.5"/><line x1="241.71" x2="241.71" y1="322" y2="369.4" stroke="#f1f1f3" stroke-width="0.5"/><line x1="259.00" x2="259.00" y1="322" y2="369.4" stroke="#f1f1f3" stroke-width="0.5"/><rect x="142.00" y="349.49" width="4" height="19.91" fill="#845adf"/><rect x="147.00" y="353.76" width="4.4" height="15.64" fill="#ededf0"/><rect x="159.29" y="350.44" width="4" height="18.96" fill="#845adf"/><rect x="164.29" y="359.45" width="4.4" height="9.95" fill="#ededf0"/><rect x="176.57" y="343.33" width="4" height="26.07" fill="#845adf"/><rect x="181.57" y="352.34" width="4.4" height="17.06" fill="#ededf0"/><rect x="193.86" y="329.58" width="4" height="39.82" fill="#845adf"/><rect x="198.86" y="343.33" width="4.4" height="26.07" fill="#ededf0"/><rect x="211.14" y="342.86" width="4" height="26.54" fill="#845adf"/><rect x="216.14" y="359.92" width="4.4" height="9.48" fill="#ededf0"/><rect x="228.43" y="344.28" width="4" height="25.12" fill="#845adf"/><rect x="233.43" y="353.28" width="4.4" height="16.12" fill="#ededf0"/><rect x="245.71" y="337.17" width="4" height="32.23" fill="#845adf"/><rect x="250.71" y="341.43" width="4.4" height="27.97" fill="#ededf0"/></svg>
<div class="t" style="right:665.80px;top:320.80px;font-size:4.4px;line-height:4.4px;font-weight:400;color:#6f737b;">100</div>
<div class="t" style="right:665.80px;top:330.28px;font-size:4.4px;line-height:4.4px;font-weight:400;color:#6f737b;">80</div>
<div class="t" style="right:665.80px;top:339.76px;font-size:4.4px;line-height:4.4px;font-weight:400;color:#6f737b;">60</div>
<div class="t" style="right:665.80px;top:349.24px;font-size:4.4px;line-height:4.4px;font-weight:400;color:#6f737b;">40</div>
<div class="t" style="right:665.80px;top:358.72px;font-size:4.4px;line-height:4.4px;font-weight:400;color:#6f737b;">20</div>
<div class="t" style="right:665.80px;top:368.20px;font-size:4.4px;line-height:4.4px;font-weight:400;color:#6f737b;">0</div>
<div class="t" style="left:146.84px;transform:translateX(-50%);top:375.75px;font-size:5.1px;line-height:5.1px;font-weight:400;color:#7b7f87;">S</div>
<div class="t" style="left:164.13px;transform:translateX(-50%);top:375.75px;font-size:5.1px;line-height:5.1px;font-weight:400;color:#7b7f87;">M</div>
<div class="t" style="left:181.41px;transform:translateX(-50%);top:375.75px;font-size:5.1px;line-height:5.1px;font-weight:400;color:#7b7f87;">T</div>
<div class="t" style="left:198.70px;transform:translateX(-50%);top:375.75px;font-size:5.1px;line-height:5.1px;font-weight:400;color:#7b7f87;">W</div>
<div class="t" style="left:215.99px;transform:translateX(-50%);top:375.75px;font-size:5.1px;line-height:5.1px;font-weight:400;color:#7b7f87;">T</div>
<div class="t" style="left:233.27px;transform:translateX(-50%);top:375.75px;font-size:5.1px;line-height:5.1px;font-weight:400;color:#7b7f87;">F</div>
<div class="t" style="left:250.56px;transform:translateX(-50%);top:375.75px;font-size:5.1px;line-height:5.1px;font-weight:400;color:#7b7f87;">S</div>
<div class="t" style="left:121.0px;top:344.2px;font-size:5.7px;line-height:5.7px;color:#4f535b;transform:translate(-50%,-50%) rotate(-90deg);">Profit Earned</div>
<div class="card" style="left:630.8px;top:63px;width:164.7px;height:180.4px;"></div>
<div style="position:absolute;left:635.0px;top:72.30px;width:1.5px;height:6.6px;border-radius:1px;background:linear-gradient(180deg,rgba(132,90,223,0.55) 0%,rgba(132,90,223,0.5) 45%,rgba(35,183,229,0.55) 55%,rgba(35,183,229,0.6) 100%);"></div>
<div class="t" style="left:639.30px;top:73.38px;font-size:6.45px;line-height:6.45px;font-weight:700;color:#333335;">Leads By Source</div>
<div class="hb" style="left:630.8px;top:88.1px;width:164.7px;"></div>
<div style="position:absolute;left:775.70px;top:69.80px;width:11.50px;height:11.50px;background:#f3f4f7;border-radius:2px;"></div>
<div style="position:absolute;left:781.05px;top:73.40px;width:0.80px;height:0.80px;background:#6b6f78;border-radius:50%;"></div>
<div style="position:absolute;left:781.05px;top:75.00px;width:0.80px;height:0.80px;background:#6b6f78;border-radius:50%;"></div>
<div style="position:absolute;left:781.05px;top:76.60px;width:0.80px;height:0.80px;background:#6b6f78;border-radius:50%;"></div>
<svg style="left:0;top:0" width="800" height="636"><path d="M715.95 106.77 A44.3 44.3 0 0 1 752.29 172.21" fill="none" stroke="#845adf" stroke-width="8.8" stroke-linecap="round"/><path d="M752.29 172.21 A44.3 44.3 0 0 1 686.86 186.47" fill="none" stroke="#23b7e5" stroke-width="8.8" stroke-linecap="butt"/><path d="M686.86 186.47 A44.3 44.3 0 0 1 677.02 125.72" fill="none" stroke="#f5b849" stroke-width="8.8" stroke-linecap="butt"/><path d="M677.02 125.72 A44.3 44.3 0 0 1 715.95 106.77" fill="none" stroke="#26bf94" stroke-width="8.8" stroke-linecap="butt"/><path d="M754.47 167.60 A44.3 44.3 0 0 1 752.29 172.21" fill="none" stroke="#845adf" stroke-width="8.8" stroke-linecap="round"/><path d="M691.25 189.36 A44.3 44.3 0 0 1 686.86 186.47" fill="none" stroke="#23b7e5" stroke-width="8.8" stroke-linecap="round"/><path d="M674.29 130.20 A44.3 44.3 0 0 1 677.02 125.72" fill="none" stroke="#f5b849" stroke-width="8.8" stroke-linecap="round"/><path d="M710.31 106.81 A44.3 44.3 0 0 1 715.95 106.77" fill="none" stroke="#26bf94" stroke-width="8.8" stroke-linecap="round"/></svg>
<div class="t" style="left:713.60px;transform:translateX(-50%);top:139.15px;font-size:6.5px;line-height:6.5px;font-weight:400;color:#6b6f78;">Total</div>
<div class="t" style="left:713.60px;transform:translateX(-50%);top:148.40px;font-size:11.2px;line-height:11.2px;font-weight:700;color:#333335;">4,145</div>
<div class="hb" style="left:630.8px;top:209.6px;width:164.7px;"></div>
<div style="position:absolute;left:669.3px;top:209.8px;width:0;height:33.6px;border-left:0.5px dashed #f3f3f6;"></div>
<div style="position:absolute;left:713.5px;top:209.8px;width:0;height:33.6px;border-left:0.5px dashed #f3f3f6;"></div>
<div style="position:absolute;left:756.9px;top:209.8px;width:0;height:33.6px;border-left:0.5px dashed #f3f3f6;"></div>
<div class="t" style="left:648.0px;top:218.6px;font-size:5.2px;line-height:5.2px;color:#8c9097;transform:translateX(-50%);"><span style="display:inline-block;width:2.2px;height:2.2px;border-radius:50%;background:#845adf;margin-right:1.3px;vertical-align:0.5px;"></span>Mobile</div>
<div class="t" style="left:648.50px;transform:translateX(-50%);top:229.20px;font-size:7.4px;line-height:7.4px;font-weight:700;color:#3b3b40;">1,624</div>
<div class="t" style="left:690.0px;top:218.6px;font-size:5.2px;line-height:5.2px;color:#8c9097;transform:translateX(-50%);"><span style="display:inline-block;width:2.2px;height:2.2px;border-radius:50%;background:#23b7e5;margin-right:1.3px;vertical-align:0.5px;"></span>Desktop</div>
<div class="t" style="left:690.50px;transform:translateX(-50%);top:229.20px;font-size:7.4px;line-height:7.4px;font-weight:700;color:#3b3b40;">1,267</div>
<div class="t" style="left:734.0px;top:218.6px;font-size:5.2px;line-height:5.2px;color:#8c9097;transform:translateX(-50%);"><span style="display:inline-block;width:2.2px;height:2.2px;border-radius:50%;background:#f5b849;margin-right:1.3px;vertical-align:0.5px;"></span>Laptop</div>
<div class="t" style="left:734.50px;transform:translateX(-50%);top:229.20px;font-size:7.4px;line-height:7.4px;font-weight:700;color:#3b3b40;">1,153</div>
<div class="t" style="left:777.0px;top:218.6px;font-size:5.2px;line-height:5.2px;color:#8c9097;transform:translateX(-50%);"><span style="display:inline-block;width:2.2px;height:2.2px;border-radius:50%;background:#26bf94;margin-right:1.3px;vertical-align:0.5px;"></span>Tablet</div>
<div class="t" style="left:777.50px;transform:translateX(-50%);top:229.20px;font-size:7.4px;line-height:7.4px;font-weight:700;color:#3b3b40;">679</div>
<div class="card" style="left:630.8px;top:253.3px;width:164.7px;height:127.7px;"></div>
<div style="position:absolute;left:635.0px;top:261.90px;width:1.5px;height:6.6px;border-radius:1px;background:linear-gradient(180deg,rgba(132,90,223,0.55) 0%,rgba(132,90,223,0.5) 45%,rgba(35,183,229,0.55) 55%,rgba(35,183,229,0.6) 100%);"></div>
<div class="t" style="left:639.30px;top:262.97px;font-size:6.45px;line-height:6.45px;font-weight:700;color:#333335;">Deals Status</div>
<div class="hb" style="left:630.8px;top:276.4px;width:164.7px;"></div>
<div class="t" style="right:22.20px;top:263.30px;font-size:5.4px;line-height:5.4px;font-weight:400;color:#8c9097;">View All</div>
<svg style="left:779.8px;top:264.0px" width="2.6" height="1.8" viewBox="0 0 4 3"><path d="M0.4 0.5 L2 2.2 L3.6 0.5" fill="none" stroke="#8c9097" stroke-width="0.7"/></svg>
<div class="t" style="left:640.00px;top:285.80px;font-size:11.4px;line-height:11.4px;font-weight:700;color:#333335;">4,289</div>
<div style="position:absolute;left:672.30px;top:287.40px;width:19.80px;height:7.70px;background:rgba(38,191,148,0.1);border-radius:1.5px;"></div>
<div class="t" style="left:678.50px;transform:translateX(-50%);top:290.50px;font-size:3.6px;line-height:3.6px;font-weight:700;color:#26bf94;">1.02</div>
<svg style="left:685.3px;top:290.2px" width="2.2" height="2" viewBox="0 0 4 3.5"><path d="M2 0 L4 3.5 H0 Z" fill="#26bf94"/></svg>
<div class="t" style="left:695.40px;top:289.30px;font-size:5.8px;line-height:5.8px;font-weight:400;color:#8c9097;">compared to last week</div>
<div style="position:absolute;left:640.00px;top:303.90px;width:30.10px;height:1.90px;background:#845adf;"></div>
<div style="position:absolute;left:670.10px;top:303.90px;width:38.50px;height:1.90px;background:#49b6f5;"></div>
<div style="position:absolute;left:708.60px;top:303.90px;width:51.80px;height:1.90px;background:#f5b849;"></div>
<div style="position:absolute;left:760.40px;top:303.90px;width:27.10px;height:1.90px;background:#26bf94;"></div>
<div style="position:absolute;left:640.00px;top:303.90px;width:147.50px;height:1.90px;border-radius:1px;"></div>
<svg style="left:0;top:0" width="800" height="636"><circle cx="640.8" cy="323.30" r="1.45" fill="#845adf"/></svg>
<div class="t" style="left:646.10px;top:321.43px;font-size:5.75px;line-height:5.75px;font-weight:400;color:#3a3c42;">Successful Deals</div>
<div class="t" style="right:12.50px;top:321.70px;font-size:5.2px;line-height:5.2px;font-weight:400;color:#a0a4ab;">987 deals</div>
<svg style="left:0;top:0" width="800" height="636"><circle cx="640.8" cy="338.00" r="1.45" fill="#49b6f5"/></svg>
<div class="t" style="left:646.10px;top:336.12px;font-size:5.75px;line-height:5.75px;font-weight:400;color:#3a3c42;">Pending Deals</div>
<div class="t" style="right:12.50px;top:336.40px;font-size:5.2px;line-height:5.2px;font-weight:400;color:#a0a4ab;">1,073 deals</div>
<svg style="left:0;top:0" width="800" height="636"><circle cx="640.8" cy="353.00" r="1.45" fill="#f5b849"/></svg>
<div class="t" style="left:646.10px;top:351.12px;font-size:5.75px;line-height:5.75px;font-weight:400;color:#3a3c42;">Rejected Deals</div>
<div class="t" style="right:12.50px;top:351.40px;font-size:5.2px;line-height:5.2px;font-weight:400;color:#a0a4ab;">1,674 deals</div>
<svg style="left:0;top:0" width="800" height="636"><circle cx="640.8" cy="368.00" r="1.45" fill="#26bf94"/></svg>
<div class="t" style="left:646.10px;top:366.12px;font-size:5.75px;line-height:5.75px;font-weight:400;color:#3a3c42;">Upcoming Deals</div>
<div class="t" style="right:12.50px;top:366.40px;font-size:5.2px;line-height:5.2px;font-weight:400;color:#a0a4ab;">921 deals</div>
<div class="card" style="left:281.5px;top:206.6px;width:339.3px;height:194.0px;"></div>
<div style="position:absolute;left:285.7px;top:214.90px;width:1.5px;height:6.6px;border-radius:1px;background:linear-gradient(180deg,rgba(132,90,223,0.55) 0%,rgba(132,90,223,0.5) 45%,rgba(35,183,229,0.55) 55%,rgba(35,183,229,0.6) 100%);"></div>
<div class="t" style="left:290.00px;top:215.98px;font-size:6.45px;line-height:6.45px;font-weight:700;color:#333335;">Revenue Analytics</div>
<div class="hb" style="left:281.5px;top:229.7px;width:339.3px;"></div>
<div class="t" style="right:197.20px;top:216.70px;font-size:5.4px;line-height:5.4px;font-weight:400;color:#8c9097;">View All</div>
<svg style="left:604.8px;top:217.4px" width="2.6" height="1.8" viewBox="0 0 4 3"><path d="M0.4 0.5 L2 2.2 L3.6 0.5" fill="none" stroke="#8c9097" stroke-width="0.7"/></svg>
<div class="t" style="left:294.00px;top:238.97px;font-size:5.45px;line-height:5.45px;font-weight:400;color:#7b7f87;">Revenue Analytics with sales &amp; profit (USD)</div>
<svg style="left:0;top:0" width="800" height="636"><circle cx="559.7" cy="244" r="2.7" fill="none" stroke="#6e7687" stroke-width="0.6"/><path d="M558.4 244 H561 M559.7 242.7 V245.3" stroke="#6e7687" stroke-width="0.55"/><circle cx="568" cy="244" r="2.7" fill="none" stroke="#6e7687" stroke-width="0.6"/><path d="M566.7 244 H569.3" stroke="#6e7687" stroke-width="0.55"/><circle cx="577" cy="243.5" r="2.2" fill="none" stroke="#23a8e5" stroke-width="0.9"/><path d="M578.6 245.1 L580.8 247.2" stroke="#23a8e5" stroke-width="1"/><path d="M584.5 246.5 L584 244.5 L585.4 245 L585.4 241.6 M586.6 244 V241 M587.8 244 V241.3 M589 244.3 V242 V245.5 C589 247 588 247.6 586.7 247.6 H585.5 Z" fill="none" stroke="#6e7687" stroke-width="0.55"/><path d="M594 244.2 L597 241.2 L600 244.2 H599.1 V247.2 H597.6 V245.5 H596.4 V247.2 H594.9 V244.2 Z" fill="#56647a"/><path d="M602 242 H608.8 M602 244.2 H608.8 M602 246.4 H608.8" stroke="#8e95a3" stroke-width="0.75"/></svg>
<svg style="left:0;top:0" width="800" height="636"><defs><filter id="ds" x="-5%" y="-20%" width="110%" height="140%"><feDropShadow dx="0" dy="1.2" stdDeviation="0.8" flood-color="#000" flood-opacity="0.10"/></filter></defs><line x1="311.0" x2="603.4" y1="259.00" y2="259.00" stroke="#ececf0" stroke-width="0.5" stroke-dasharray="1 1"/><line x1="311.0" x2="603.4" y1="279.48" y2="279.48" stroke="#ececf0" stroke-width="0.5" stroke-dasharray="1 1"/><line x1="311.0" x2="603.4" y1="299.96" y2="299.96" stroke="#ececf0" stroke-width="0.5" stroke-dasharray="1 1"/><line x1="311.0" x2="603.4" y1="320.44" y2="320.44" stroke="#ececf0" stroke-width="0.5" stroke-dasharray="1 1"/><line x1="311.0" x2="603.4" y1="340.92" y2="340.92" stroke="#ececf0" stroke-width="0.5" stroke-dasharray="1 1"/><line x1="311.0" x2="603.4" y1="361.40" y2="361.40" stroke="#ececf0" stroke-width="0.5" stroke-dasharray="1 1"/><line x1="311.00" x2="311.00" y1="259.0" y2="361.4" stroke="#ececf0" stroke-width="0.5" stroke-dasharray="1 1"/><line x1="337.58" x2="337.58" y1="259.0" y2="361.4" stroke="#ececf0" stroke-width="0.5" stroke-dasharray="1 1"/><line x1="364.16" x2="364.16" y1="259.0" y2="361.4" stroke="#ececf0" stroke-width="0.5" stroke-dasharray="1 1"/><line x1="390.75" x2="390.75" y1="259.0" y2="361.4" stroke="#ececf0" stroke-width="0.5" stroke-dasharray="1 1"/><line x1="417.33" x2="417.33" y1="259.0" y2="361.4" stroke="#ececf0" stroke-width="0.5" stroke-dasharray="1 1"/><line x1="443.91" x2="443.91" y1="259.0" y2="361.4" stroke="#ececf0" stroke-width="0.5" stroke-dasharray="1 1"/><line x1="470.49" x2="470.49" y1="259.0" y2="361.4" stroke="#ececf0" stroke-width="0.5" stroke-dasharray="1 1"/><line x1="497.07" x2="497.07" y1="259.0" y2="361.4" stroke="#ececf0" stroke-width="0.5" stroke-dasharray="1 1"/><line x1="523.65" x2="523.65" y1="259.0" y2="361.4" stroke="#ececf0" stroke-width="0.5" stroke-dasharray="1 1"/><line x1="550.24" x2="550.24" y1="259.0" y2="361.4" stroke="#ececf0" stroke-width="0.5" stroke-dasharray="1 1"/><line x1="576.82" x2="576.82" y1="259.0" y2="361.4" stroke="#ececf0" stroke-width="0.5" stroke-dasharray="1 1"/><line x1="603.40" x2="603.40" y1="259.0" y2="361.4" stroke="#ececf0" stroke-width="0.5" stroke-dasharray="1 1"/><path d="M311.00 355.26 C324.29 355.26 324.29 308.05 337.58 308.05 C350.87 308.05 350.87 349.11 364.16 349.11 C377.45 349.11 377.45 348.09 390.75 348.09 C404.04 348.09 404.04 311.02 417.33 311.02 C430.62 311.02 430.62 308.66 443.91 308.66 C457.20 308.66 457.20 283.06 470.49 283.06 C483.78 283.06 483.78 315.93 497.07 315.93 C510.36 315.93 510.36 313.68 523.65 313.68 C536.95 313.68 536.95 287.16 550.24 287.16 C563.53 287.16 563.53 313.68 576.82 313.68 C590.11 313.68 590.11 312.66 603.40 312.66 L603.4 361.4 L311.0 361.4 Z" fill="#f5f5f7"/><path d="M311.00 355.26 C324.29 355.26 324.29 308.05 337.58 308.05 C350.87 308.05 350.87 349.11 364.16 349.11 C377.45 349.11 377.45 348.09 390.75 348.09 C404.04 348.09 404.04 311.02 417.33 311.02 C430.62 311.02 430.62 308.66 443.91 308.66 C457.20 308.66 457.20 283.06 470.49 283.06 C483.78 283.06 483.78 315.93 497.07 315.93 C510.36 315.93 510.36 313.68 523.65 313.68 C536.95 313.68 536.95 287.16 550.24 287.16 C563.53 287.16 563.53 313.68 576.82 313.68 C590.11 313.68 590.11 312.66 603.40 312.66" fill="none" stroke="#fbfbfc" stroke-width="1.6" opacity="0.8"/><path d="M311.00 343.99 C324.29 343.99 324.29 298.63 337.58 298.63 C350.87 298.63 350.87 313.58 364.16 313.58 C377.45 313.58 377.45 340.00 390.75 340.00 C404.04 340.00 404.04 310.00 417.33 310.00 C430.62 310.00 430.62 282.24 443.91 282.24 C457.20 282.24 457.20 317.57 470.49 317.57 C483.78 317.57 483.78 308.97 497.07 308.97 C510.36 308.97 510.36 286.55 523.65 286.55 C536.95 286.55 536.95 315.42 550.24 315.42 C563.53 315.42 563.53 308.36 576.82 308.36 C590.11 308.36 590.11 338.77 603.40 338.77" fill="none" stroke="#fff" stroke-width="2.2" opacity="0.9"/><path d="M311.00 343.99 C324.29 343.99 324.29 298.63 337.58 298.63 C350.87 298.63 350.87 313.58 364.16 313.58 C377.45 313.58 377.45 340.00 390.75 340.00 C404.04 340.00 404.04 310.00 417.33 310.00 C430.62 310.00 430.62 282.24 443.91 282.24 C457.20 282.24 457.20 317.57 470.49 317.57 C483.78 317.57 483.78 308.97 497.07 308.97 C510.36 308.97 510.36 286.55 523.65 286.55 C536.95 286.55 536.95 315.42 550.24 315.42 C563.53 315.42 563.53 308.36 576.82 308.36 C590.11 308.36 590.11 338.77 603.40 338.77" fill="none" stroke="#40c0ec" stroke-width="1.1" stroke-dasharray="2.4 1.6"/><path d="M311.00 352.39 C324.29 352.39 324.29 341.02 337.58 341.02 C350.87 341.02 350.87 343.58 364.16 343.58 C377.45 343.58 377.45 315.63 390.75 315.63 C404.04 315.63 404.04 338.36 417.33 338.36 C430.62 338.36 430.62 329.55 443.91 329.55 C457.20 329.55 457.20 294.64 470.49 294.64 C483.78 294.64 483.78 277.23 497.07 277.23 C510.36 277.23 510.36 325.97 523.65 325.97 C536.95 325.97 536.95 325.97 550.24 325.97 C563.53 325.97 563.53 340.31 576.82 340.31 C590.11 340.31 590.11 320.13 603.40 320.13" fill="none" stroke="#fff" stroke-width="2.4" opacity="0.9"/><path d="M311.00 352.39 C324.29 352.39 324.29 341.02 337.58 341.02 C350.87 341.02 350.87 343.58 364.16 343.58 C377.45 343.58 377.45 315.63 390.75 315.63 C404.04 315.63 404.04 338.36 417.33 338.36 C430.62 338.36 430.62 329.55 443.91 329.55 C457.20 329.55 457.20 294.64 470.49 294.64 C483.78 294.64 483.78 277.23 497.07 277.23 C510.36 277.23 510.36 325.97 523.65 325.97 C536.95 325.97 536.95 325.97 550.24 325.97 C563.53 325.97 563.53 340.31 576.82 340.31 C590.11 340.31 590.11 320.13 603.40 320.13" fill="none" stroke="#845adf" stroke-width="1.15" filter="url(#ds)"/></svg>
<div class="t" style="right:492.60px;top:257.65px;font-size:4.7px;line-height:4.7px;font-weight:400;color:#6f737b;">1000</div>
<div class="t" style="right:492.60px;top:278.13px;font-size:4.7px;line-height:4.7px;font-weight:400;color:#6f737b;">800</div>
<div class="t" style="right:492.60px;top:298.61px;font-size:4.7px;line-height:4.7px;font-weight:400;color:#6f737b;">600</div>
<div class="t" style="right:492.60px;top:319.09px;font-size:4.7px;line-height:4.7px;font-weight:400;color:#6f737b;">400</div>
<div class="t" style="right:492.60px;top:339.57px;font-size:4.7px;line-height:4.7px;font-weight:400;color:#6f737b;">200</div>
<div class="t" style="right:492.60px;top:360.05px;font-size:4.7px;line-height:4.7px;font-weight:400;color:#6f737b;">0</div>
<div class="t" style="left:311.00px;transform:translateX(-50%);top:369.25px;font-size:5.1px;line-height:5.1px;font-weight:400;color:#7b7f87;">Jan</div>
<div class="t" style="left:337.58px;transform:translateX(-50%);top:369.25px;font-size:5.1px;line-height:5.1px;font-weight:400;color:#7b7f87;">Feb</div>
<div class="t" style="left:364.16px;transform:translateX(-50%);top:369.25px;font-size:5.1px;line-height:5.1px;font-weight:400;color:#7b7f87;">Mar</div>
<div class="t" style="left:390.75px;transform:translateX(-50%);top:369.25px;font-size:5.1px;line-height:5.1px;font-weight:400;color:#7b7f87;">Apr</div>
<div class="t" style="left:417.33px;transform:translateX(-50%);top:369.25px;font-size:5.1px;line-height:5.1px;font-weight:400;color:#7b7f87;">May</div>
<div class="t" style="left:443.91px;transform:translateX(-50%);top:369.25px;font-size:5.1px;line-height:5.1px;font-weight:400;color:#7b7f87;">Jun</div>
<div class="t" style="left:470.49px;transform:translateX(-50%);top:369.25px;font-size:5.1px;line-height:5.1px;font-weight:400;color:#7b7f87;">Jul</div>
<div class="t" style="left:497.07px;transform:translateX(-50%);top:369.25px;font-size:5.1px;line-height:5.1px;font-weight:400;color:#7b7f87;">Aug</div>
<div class="t" style="left:523.65px;transform:translateX(-50%);top:369.25px;font-size:5.1px;line-height:5.1px;font-weight:400;color:#7b7f87;">Sep</div>
<div class="t" style="left:550.24px;transform:translateX(-50%);top:369.25px;font-size:5.1px;line-height:5.1px;font-weight:400;color:#7b7f87;">Oct</div>
<div class="t" style="left:576.82px;transform:translateX(-50%);top:369.25px;font-size:5.1px;line-height:5.1px;font-weight:400;color:#7b7f87;">Nov</div>
<div class="t" style="left:603.40px;transform:translateX(-50%);top:369.25px;font-size:5.1px;line-height:5.1px;font-weight:400;color:#7b7f87;">Dec</div>
<svg style="left:0;top:0" width="800" height="636"><circle cx="415.4" cy="381.1" r="2.3" fill="#eeeef1"/><circle cx="440.0" cy="381.1" r="2.3" fill="#23b7e5"/><circle cx="472.6" cy="381.1" r="2.3" fill="#845adf"/></svg>
<div class="t" style="left:419.60px;top:379.50px;font-size:5.2px;line-height:5.2px;font-weight:400;color:#3a3a40;">Sales</div>
<div class="t" style="left:444.00px;top:379.50px;font-size:5.2px;line-height:5.2px;font-weight:400;color:#3a3a40;">Revenue</div>
<div class="t" style="left:476.60px;top:379.50px;font-size:5.2px;line-height:5.2px;font-weight:400;color:#3a3a40;">Profit</div>
<div class="card" style="left:630.8px;top:391.2px;width:164.7px;height:219.8px;"></div>
<div style="position:absolute;left:635.0px;top:398.90px;width:1.5px;height:6.6px;border-radius:1px;background:linear-gradient(180deg,rgba(132,90,223,0.55) 0%,rgba(132,90,223,0.5) 45%,rgba(35,183,229,0.55) 55%,rgba(35,183,229,0.6) 100%);"></div>
<div class="t" style="left:639.30px;top:399.97px;font-size:6.45px;line-height:6.45px;font-weight:700;color:#333335;">Recent Activity</div>
<div class="hb" style="left:630.8px;top:413.2px;width:164.7px;"></div>
<div class="t" style="right:22.20px;top:400.30px;font-size:5.4px;line-height:5.4px;font-weight:400;color:#8c9097;">View All</div>
<svg style="left:779.8px;top:401.0px" width="2.6" height="1.8" viewBox="0 0 4 3"><path d="M0.4 0.5 L2 2.2 L3.6 0.5" fill="none" stroke="#8c9097" stroke-width="0.7"/></svg>
<div style="position:absolute;left:643.2px;top:430px;width:0;height:165px;border-left:0.6px dotted #e6e7ec;"></div>
<svg style="left:0;top:0" width="800" height="636"><circle cx="643.4" cy="426.50" r="3.6" fill="rgba(132,90,223,0.12)"/><circle cx="643.4" cy="426.50" r="1.5" fill="#845adf"/></svg>
<div class="t" style="left:654.60px;top:424.43px;font-size:5.75px;line-height:5.75px;font-weight:400;color:#3a3c42;"><b style="color:#3b3b40;font-size:5.55px">Update of calendar events &amp; </b><b style="color:#845adf;font-size:5.55px">Added</b></div>
<div class="t" style="left:654.60px;top:432.73px;font-size:5.75px;line-height:5.75px;font-weight:400;color:#3a3c42;"><b style="color:#845adf;font-size:5.55px">new events in next week.</b></div>
<div class="t" style="right:12.60px;top:424.20px;font-size:5.0px;line-height:5.0px;font-weight:400;color:#a8abb2;">4:45PM</div>
<svg style="left:0;top:0" width="800" height="636"><circle cx="643.4" cy="452.00" r="3.6" fill="rgba(35,183,229,0.12)"/><circle cx="643.4" cy="452.00" r="1.5" fill="#23b7e5"/></svg>
<div class="t" style="left:654.60px;top:450.12px;font-size:5.75px;line-height:5.75px;font-weight:400;color:#3a3c42;">New theme for <b style="color:#3b3b40">Spruko Website</b></div>
<div class="t" style="left:654.60px;top:458.52px;font-size:5.75px;line-height:5.75px;font-weight:400;color:#3a3c42;">completed</div>
<div class="t" style="right:12.60px;top:449.70px;font-size:5.0px;line-height:5.0px;font-weight:400;color:#a8abb2;">3 hrs</div>
<svg style="left:0;top:0" width="800" height="636"><circle cx="643.4" cy="485.60" r="3.6" fill="rgba(38,191,148,0.12)"/><circle cx="643.4" cy="485.60" r="1.5" fill="#26bf94"/></svg>
<div class="t" style="left:654.60px;top:483.73px;font-size:5.75px;line-height:5.75px;font-weight:400;color:#3a3c42;">Created a <span style="color:#26bf94">New Task</span> today</div>
<div class="t" style="right:12.60px;top:483.30px;font-size:5.0px;line-height:5.0px;font-weight:400;color:#a8abb2;">22 hrs</div>
<svg style="left:0;top:0" width="800" height="636"><circle cx="643.4" cy="503.00" r="3.6" fill="rgba(240,138,154,0.12)"/><circle cx="643.4" cy="503.00" r="1.5" fill="#f08a9a"/></svg>
<div class="t" style="left:654.60px;top:501.12px;font-size:5.75px;line-height:5.75px;font-weight:400;color:#3a3c42;">New member <span style="display:inline-block;background:rgba(230,83,160,0.08);color:#e672a8;font-size:4.25px;padding:0 2.6px;line-height:5.8px;vertical-align:0.4px;">@andreas gueiere</span> added</div>
<div class="t" style="left:654.60px;top:509.23px;font-size:5.75px;line-height:5.75px;font-weight:400;color:#3a3c42;">today to AI Summit.</div>
<div class="t" style="right:12.60px;top:500.70px;font-size:5.0px;line-height:5.0px;font-weight:400;color:#a8abb2;">Today</div>
<svg style="left:0;top:0" width="800" height="636"><circle cx="643.4" cy="529.00" r="3.6" fill="rgba(245,184,73,0.12)"/><circle cx="643.4" cy="529.00" r="1.5" fill="#f5b849"/></svg>
<div class="t" style="left:654.60px;top:527.12px;font-size:5.75px;line-height:5.75px;font-weight:400;color:#3a3c42;">32 New people joined summit.</div>
<div class="t" style="right:12.60px;top:526.70px;font-size:5.0px;line-height:5.0px;font-weight:400;color:#a8abb2;">22 hrs</div>
<svg style="left:0;top:0" width="800" height="636"><circle cx="643.4" cy="546.50" r="3.6" fill="rgba(73,182,245,0.12)"/><circle cx="643.4" cy="546.50" r="1.5" fill="#49b6f5"/></svg>
<div class="t" style="left:654.60px;top:544.62px;font-size:5.75px;line-height:5.75px;font-weight:400;color:#3a3c42;">Neon Tarly added <span style="color:#49b6f5">Robert Bright</span> to AI</div>
<div class="t" style="left:654.60px;top:552.92px;font-size:5.75px;line-height:5.75px;font-weight:400;color:#3a3c42;">summit project.</div>
<div class="t" style="right:12.60px;top:544.20px;font-size:5.0px;line-height:5.0px;font-weight:400;color:#a8abb2;">12 hrs</div>
<svg style="left:0;top:0" width="800" height="636"><circle cx="643.4" cy="572.80" r="3.6" fill="rgba(35,35,35,0.10)"/><circle cx="643.4" cy="572.80" r="1.5" fill="#232323"/></svg>
<div class="t" style="left:654.60px;top:570.92px;font-size:5.75px;line-height:5.75px;font-weight:400;color:#3a3c42;">Replied to new support request</div>
<div class="t" style="right:12.60px;top:570.50px;font-size:5.0px;line-height:5.0px;font-weight:400;color:#a8abb2;">4 hrs</div>
<svg style="left:0;top:0" width="800" height="636"><circle cx="643.4" cy="591.20" r="3.6" fill="rgba(123,31,162,0.10)"/><circle cx="643.4" cy="591.20" r="1.5" fill="#7b1fa2"/></svg>
<div class="t" style="left:654.60px;top:589.33px;font-size:5.75px;line-height:5.75px;font-weight:400;color:#3a3c42;">Completed documentation of <span style="color:#7b1fa2;text-decoration:underline;font-weight:700">AI</span></div>
<div class="t" style="left:654.60px;top:597.42px;font-size:5.75px;line-height:5.75px;font-weight:400;color:#3a3c42;"><span style="color:#7b1fa2;text-decoration:underline;font-weight:700">Summit.</span></div>
<div class="t" style="right:12.60px;top:588.90px;font-size:5.0px;line-height:5.0px;font-weight:400;color:#a8abb2;">4 hrs</div>
<div class="t" style="left:654.60px;top:466.32px;font-size:5.36px;line-height:5.36px;font-weight:400;color:#8c9097;">Lorem ipsum, dolor sit amet.</div>
<div style="position:absolute;left:727.00px;top:482.00px;width:7.20px;height:7.20px;background:rgba(132,90,223,0.12);border-radius:50%;"></div>
<svg style="left:729.1px;top:484.1px" width="3" height="3" viewBox="0 0 6 6"><path d="M3 0.5 V5.5 M0.5 3 H5.5" stroke="#845adf" stroke-width="0.9"/></svg>
<svg style="left:737.2px;top:569.8px" width="6" height="6" viewBox="0 0 12 12"><circle cx="6" cy="6" r="5" fill="none" stroke="#26bf94" stroke-width="1.1"/><path d="M3.6 6.2 L5.3 7.8 L8.4 4.4" fill="none" stroke="#26bf94" stroke-width="1.1"/></svg>
<div class="card" style="left:107px;top:410.5px;width:514.0px;height:200.5px;"></div>
<div style="position:absolute;left:111.2px;top:419.90px;width:1.5px;height:6.6px;border-radius:1px;background:linear-gradient(180deg,rgba(132,90,223,0.55) 0%,rgba(132,90,223,0.5) 45%,rgba(35,183,229,0.55) 55%,rgba(35,183,229,0.6) 100%);"></div>
<div class="t" style="left:115.50px;top:420.97px;font-size:6.45px;line-height:6.45px;font-weight:700;color:#333335;">Deals Statistics</div>
<div class="hb" style="left:107px;top:436.3px;width:514.0px;"></div>
<div style="position:absolute;left:488.30px;top:417.10px;width:85.70px;height:12.30px;border:0.6px solid #eeeef2;border-radius:2px;box-sizing:border-box;background:#fff;"></div>
<div class="t" style="left:494.00px;top:420.65px;font-size:5.7px;line-height:5.7px;font-weight:400;color:#b8bbc1;">Search Here</div>
<div style="position:absolute;left:580.60px;top:417.10px;width:32.20px;height:12.00px;background:#845adf;border-radius:2px;"></div>
<div class="t" style="left:584.40px;top:420.75px;font-size:5.1px;line-height:5.1px;font-weight:700;color:#fff;">Sort By</div>
<svg style="left:605.4px;top:422.3px" width="2.8" height="2" viewBox="0 0 4 3"><path d="M0.4 0.5 L2 2.2 L3.6 0.5" fill="none" stroke="#fff" stroke-width="0.9"/></svg>
<svg style="left:0;top:0" width="800" height="636"><line x1="115.5" x2="612.8" y1="445.5" y2="445.5" stroke="#f0f0f4" stroke-width="0.6"/><line x1="115.5" x2="612.8" y1="464.3" y2="464.3" stroke="#f0f0f4" stroke-width="0.6"/><line x1="115.5" x2="612.8" y1="486.8" y2="486.8" stroke="#f0f0f4" stroke-width="0.6"/><line x1="115.5" x2="612.8" y1="508.8" y2="508.8" stroke="#f0f0f4" stroke-width="0.6"/><line x1="115.5" x2="612.8" y1="530.9" y2="530.9" stroke="#f0f0f4" stroke-width="0.6"/><line x1="115.5" x2="612.8" y1="553.2" y2="553.2" stroke="#f0f0f4" stroke-width="0.6"/><line x1="115.5" x2="612.8" y1="574.9" y2="574.9" stroke="#f0f0f4" stroke-width="0.6"/><line x1="115.5" x2="115.5" y1="445.5" y2="574.9" stroke="#f0f0f4" stroke-width="0.6"/><line x1="144.1" x2="144.1" y1="445.5" y2="574.9" stroke="#f0f0f4" stroke-width="0.6"/><line x1="236.6" x2="236.6" y1="445.5" y2="574.9" stroke="#f0f0f4" stroke-width="0.6"/><line x1="308.1" x2="308.1" y1="445.5" y2="574.9" stroke="#f0f0f4" stroke-width="0.6"/><line x1="420.1" x2="420.1" y1="445.5" y2="574.9" stroke="#f0f0f4" stroke-width="0.6"/><line x1="469.6" x2="469.6" y1="445.5" y2="574.9" stroke="#f0f0f4" stroke-width="0.6"/><line x1="561.9" x2="561.9" y1="445.5" y2="574.9" stroke="#f0f0f4" stroke-width="0.6"/><line x1="612.8" x2="612.8" y1="445.5" y2="574.9" stroke="#f0f0f4" stroke-width="0.6"/></svg>
<div style="position:absolute;left:125.40px;top:451.80px;width:6.20px;height:6.20px;border:0.6px solid #e6e6eb;border-radius:1.2px;box-sizing:border-box;background:#fff;"></div>
<div class="t" style="left:149.60px;top:453.22px;font-size:5.35px;line-height:5.35px;font-weight:700;color:#3b3b40;">Sales Rep</div>
<div class="t" style="left:241.70px;top:453.22px;font-size:5.35px;line-height:5.35px;font-weight:700;color:#3b3b40;">Category</div>
<div class="t" style="left:313.00px;top:453.22px;font-size:5.35px;line-height:5.35px;font-weight:700;color:#3b3b40;">Mail</div>
<div class="t" style="left:425.90px;top:453.22px;font-size:5.35px;line-height:5.35px;font-weight:700;color:#3b3b40;">Location</div>
<div class="t" style="left:474.80px;top:453.22px;font-size:5.35px;line-height:5.35px;font-weight:700;color:#3b3b40;">Date</div>
<div class="t" style="left:567.30px;top:453.22px;font-size:5.35px;line-height:5.35px;font-weight:700;color:#3b3b40;">Action</div>
<div style="position:absolute;left:125.40px;top:472.10px;width:6.20px;height:6.20px;border:0.6px solid #e6e6eb;border-radius:1.2px;box-sizing:border-box;background:#fff;"></div>
<svg style="left:149.6px;top:469.4px" width="11.6" height="11.6" viewBox="0 0 40 40"><defs><clipPath id="fc149469"><circle cx="20" cy="20" r="20"/></clipPath></defs><g clip-path="url(#fc149469)"><rect width="40" height="40" fill="#fde8d8"/><path d="M3 42 C4 32 11 28 20 28 C29 28 36 32 37 42 Z" fill="#e8663c"/><path d="M16.5 28 L20 37 L23.5 28 Z" fill="#e8663c"/><rect x="16.5" y="22" width="7" height="7" fill="#d9896a"/><ellipse cx="20" cy="17.5" rx="8" ry="9" fill="#d9896a"/><path d="M11.5 17 C9.5 5 30.5 5 28.5 17 C27 10 13 10 11.5 17 Z" fill="#6b3a2a"/></g></svg>
<div class="t" style="left:164.60px;top:473.47px;font-size:5.45px;line-height:5.45px;font-weight:700;color:#45474d;">Mayor Kelly</div>
<div class="t" style="left:241.70px;top:473.30px;font-size:5.8px;line-height:5.8px;font-weight:400;color:#2e3036;">Manufacture</div>
<div class="t" style="left:313.00px;top:473.30px;font-size:5.8px;line-height:5.8px;font-weight:400;color:#2e3036;">mayorkelly@gmail.com</div>
<div class="t" style="left:425.9px;top:472.3px;height:7px;line-height:7px;font-size:4.35px;padding:0 2.6px;border-radius:1.3px;background:rgba(35,183,229,0.1);color:#23b7e5;">Germany</div>
<div class="t" style="left:474.80px;top:473.32px;font-size:5.75px;line-height:5.75px;font-weight:400;color:#2e3036;">Sep 15 - Oct 12, 2023</div>
<div style="position:absolute;left:567.30px;top:469.40px;width:11.50px;height:11.50px;background:rgba(38,191,148,0.1);border-radius:2px;"></div>
<svg style="left:570.5px;top:472.59999999999997px" width="5" height="5" viewBox="0 0 24 24"><path d="M12 4 V13 M8 10 L12 14 L16 10 M4 15 V19 H20 V15" fill="none" stroke="#26bf94" stroke-width="3" stroke-linecap="round" stroke-linejoin="round"/></svg>
<div style="position:absolute;left:582.60px;top:469.40px;width:11.50px;height:11.50px;background:rgba(132,90,223,0.1);border-radius:2px;"></div>
<svg style="left:585.8px;top:472.5px" width="5" height="5" viewBox="0 0 24 24"><path d="M16 5 L8 15 M8 18 H17" fill="none" stroke="#845adf" stroke-width="3.6" stroke-linecap="round"/></svg>
<div style="position:absolute;left:125.40px;top:494.60px;width:6.20px;height:6.20px;background:#845adf;border-radius:1.2px;"></div>
<svg style="left:126.6px;top:495.8px" width="3.8" height="3.8" viewBox="0 0 8 8"><path d="M1.5 4.2 L3.3 5.9 L6.6 2.3" fill="none" stroke="#fff" stroke-width="1.3"/></svg>
<svg style="left:149.6px;top:491.9px" width="11.6" height="11.6" viewBox="0 0 40 40"><defs><clipPath id="fc149491"><circle cx="20" cy="20" r="20"/></clipPath></defs><g clip-path="url(#fc149491)"><rect width="40" height="40" fill="#d9eefa"/><path d="M3 42 C4 32 11 28 20 28 C29 28 36 32 37 42 Z" fill="#8fcfd9"/><path d="M16.5 28 L20 37 L23.5 28 Z" fill="#8fcfd9"/><rect x="16.5" y="22" width="7" height="7" fill="#f0c7a8"/><ellipse cx="20" cy="17.5" rx="8" ry="9" fill="#f0c7a8"/><path d="M11.5 17 C9.5 5 30.5 5 28.5 17 C27 10 13 10 11.5 17 Z" fill="#2b2b2b"/></g></svg>
<div class="t" style="left:164.60px;top:495.97px;font-size:5.45px;line-height:5.45px;font-weight:700;color:#45474d;">Andrew Garfield</div>
<div class="t" style="left:241.70px;top:495.80px;font-size:5.8px;line-height:5.8px;font-weight:400;color:#2e3036;">Development</div>
<div class="t" style="left:313.00px;top:495.80px;font-size:5.8px;line-height:5.8px;font-weight:400;color:#2e3036;">andrewgarfield@gmail.com</div>
<div class="t" style="left:425.9px;top:494.8px;height:7px;line-height:7px;font-size:4.35px;padding:0 2.6px;border-radius:1.3px;background:rgba(132,90,223,0.1);color:#845adf;">Canada</div>
<div class="t" style="left:474.80px;top:495.82px;font-size:5.75px;line-height:5.75px;font-weight:400;color:#2e3036;">Apr 10 - Dec 12, 2023</div>
<div style="position:absolute;left:567.30px;top:491.90px;width:11.50px;height:11.50px;background:rgba(38,191,148,0.1);border-radius:2px;"></div>
<svg style="left:570.5px;top:495.09999999999997px" width="5" height="5" viewBox="0 0 24 24"><path d="M12 4 V13 M8 10 L12 14 L16 10 M4 15 V19 H20 V15" fill="none" stroke="#26bf94" stroke-width="3" stroke-linecap="round" stroke-linejoin="round"/></svg>
<div style="position:absolute;left:582.60px;top:491.90px;width:11.50px;height:11.50px;background:rgba(132,90,223,0.1);border-radius:2px;"></div>
<svg style="left:585.8px;top:495.0px" width="5" height="5" viewBox="0 0 24 24"><path d="M16 5 L8 15 M8 18 H17" fill="none" stroke="#845adf" stroke-width="3.6" stroke-linecap="round"/></svg>
<div style="position:absolute;left:125.40px;top:516.60px;width:6.20px;height:6.20px;border:0.6px solid #e6e6eb;border-radius:1.2px;box-sizing:border-box;background:#fff;"></div>
<svg style="left:149.6px;top:513.9000000000001px" width="11.6" height="11.6" viewBox="0 0 40 40"><defs><clipPath id="fc149513"><circle cx="20" cy="20" r="20"/></clipPath></defs><g clip-path="url(#fc149513)"><rect width="40" height="40" fill="#dff3e8"/><path d="M3 42 C4 32 11 28 20 28 C29 28 36 32 37 42 Z" fill="#b0553a"/><path d="M16.5 28 L20 37 L23.5 28 Z" fill="#b0553a"/><rect x="16.5" y="22" width="7" height="7" fill="#e8b48e"/><ellipse cx="20" cy="17.5" rx="8" ry="9" fill="#e8b48e"/><path d="M11.5 17 C9.5 5 30.5 5 28.5 17 C27 10 13 10 11.5 17 Z" fill="#6b3a22"/></g></svg>
<div class="t" style="left:164.60px;top:517.98px;font-size:5.45px;line-height:5.45px;font-weight:700;color:#45474d;">Simon Cowel</div>
<div class="t" style="left:241.70px;top:517.80px;font-size:5.8px;line-height:5.8px;font-weight:400;color:#2e3036;">Service</div>
<div class="t" style="left:313.00px;top:517.80px;font-size:5.8px;line-height:5.8px;font-weight:400;color:#2e3036;">simoncowel234@gmail.com</div>
<div class="t" style="left:425.9px;top:516.8000000000001px;height:7px;line-height:7px;font-size:4.35px;padding:0 2.6px;border-radius:1.3px;background:rgba(230,83,60,0.1);color:#e6533c;">Europe</div>
<div class="t" style="left:474.80px;top:517.83px;font-size:5.75px;line-height:5.75px;font-weight:400;color:#2e3036;">Sep 15 - Oct 12, 2023</div>
<div style="position:absolute;left:567.30px;top:513.90px;width:11.50px;height:11.50px;background:rgba(38,191,148,0.1);border-radius:2px;"></div>
<svg style="left:570.5px;top:517.1px" width="5" height="5" viewBox="0 0 24 24"><path d="M12 4 V13 M8 10 L12 14 L16 10 M4 15 V19 H20 V15" fill="none" stroke="#26bf94" stroke-width="3" stroke-linecap="round" stroke-linejoin="round"/></svg>
<div style="position:absolute;left:582.60px;top:513.90px;width:11.50px;height:11.50px;background:rgba(132,90,223,0.1);border-radius:2px;"></div>
<svg style="left:585.8px;top:517.0px" width="5" height="5" viewBox="0 0 24 24"><path d="M16 5 L8 15 M8 18 H17" fill="none" stroke="#845adf" stroke-width="3.6" stroke-linecap="round"/></svg>
<div style="position:absolute;left:125.40px;top:539.30px;width:6.20px;height:6.20px;background:#845adf;border-radius:1.2px;"></div>
<svg style="left:126.6px;top:540.5px" width="3.8" height="3.8" viewBox="0 0 8 8"><path d="M1.5 4.2 L3.3 5.9 L6.6 2.3" fill="none" stroke="#fff" stroke-width="1.3"/></svg>
<svg style="left:149.6px;top:536.6px" width="11.6" height="11.6" viewBox="0 0 40 40"><defs><clipPath id="fc149536"><circle cx="20" cy="20" r="20"/></clipPath></defs><g clip-path="url(#fc149536)"><rect width="40" height="40" fill="#fdeed9"/><path d="M3 42 C4 32 11 28 20 28 C29 28 36 32 37 42 Z" fill="#2b2b2b"/><path d="M16.5 28 L20 37 L23.5 28 Z" fill="#2b2b2b"/><rect x="16.5" y="22" width="7" height="7" fill="#e8b48e"/><ellipse cx="20" cy="17.5" rx="8" ry="9" fill="#e8b48e"/><path d="M11.5 17 C9.5 5 30.5 5 28.5 17 C27 10 13 10 11.5 17 Z" fill="#f5b849"/></g></svg>
<div class="t" style="left:164.60px;top:540.67px;font-size:5.45px;line-height:5.45px;font-weight:700;color:#45474d;">Mirinda Hers</div>
<div class="t" style="left:241.70px;top:540.50px;font-size:5.8px;line-height:5.8px;font-weight:400;color:#2e3036;">Marketing</div>
<div class="t" style="left:313.00px;top:540.50px;font-size:5.8px;line-height:5.8px;font-weight:400;color:#2e3036;">mirindahers@gmail.com</div>
<div class="t" style="left:425.9px;top:539.5px;height:7px;line-height:7px;font-size:4.35px;padding:0 2.6px;border-radius:1.3px;background:rgba(245,184,73,0.1);color:#f5b849;">USA</div>
<div class="t" style="left:474.80px;top:540.52px;font-size:5.75px;line-height:5.75px;font-weight:400;color:#2e3036;">Apr 14 - Dec 14, 2023</div>
<div style="position:absolute;left:567.30px;top:536.60px;width:11.50px;height:11.50px;background:rgba(38,191,148,0.1);border-radius:2px;"></div>
<svg style="left:570.5px;top:539.8px" width="5" height="5" viewBox="0 0 24 24"><path d="M12 4 V13 M8 10 L12 14 L16 10 M4 15 V19 H20 V15" fill="none" stroke="#26bf94" stroke-width="3" stroke-linecap="round" stroke-linejoin="round"/></svg>
<div style="position:absolute;left:582.60px;top:536.60px;width:11.50px;height:11.50px;background:rgba(132,90,223,0.1);border-radius:2px;"></div>
<svg style="left:585.8px;top:539.6999999999999px" width="5" height="5" viewBox="0 0 24 24"><path d="M16 5 L8 15 M8 18 H17" fill="none" stroke="#845adf" stroke-width="3.6" stroke-linecap="round"/></svg>
<div style="position:absolute;left:125.40px;top:561.30px;width:6.20px;height:6.20px;background:#845adf;border-radius:1.2px;"></div>
<svg style="left:126.6px;top:562.5px" width="3.8" height="3.8" viewBox="0 0 8 8"><path d="M1.5 4.2 L3.3 5.9 L6.6 2.3" fill="none" stroke="#fff" stroke-width="1.3"/></svg>
<svg style="left:149.6px;top:558.6px" width="11.6" height="11.6" viewBox="0 0 40 40"><defs><clipPath id="fc149558"><circle cx="20" cy="20" r="20"/></clipPath></defs><g clip-path="url(#fc149558)"><rect width="40" height="40" fill="#dce6f5"/><path d="M3 42 C4 32 11 28 20 28 C29 28 36 32 37 42 Z" fill="#8a8070"/><path d="M16.5 28 L20 37 L23.5 28 Z" fill="#8a8070"/><rect x="16.5" y="22" width="7" height="7" fill="#e8b48e"/><ellipse cx="20" cy="17.5" rx="8" ry="9" fill="#e8b48e"/><path d="M11.5 17 C9.5 5 30.5 5 28.5 17 C27 10 13 10 11.5 17 Z" fill="#2b2b2b"/></g></svg>
<div class="t" style="left:164.60px;top:562.67px;font-size:5.45px;line-height:5.45px;font-weight:700;color:#45474d;">Jacob Smith</div>
<div class="t" style="left:241.70px;top:562.50px;font-size:5.8px;line-height:5.8px;font-weight:400;color:#2e3036;">Social Plataform</div>
<div class="t" style="left:313.00px;top:562.50px;font-size:5.8px;line-height:5.8px;font-weight:400;color:#2e3036;">jacobsmith@gmail.com</div>
<div class="t" style="left:425.9px;top:561.5px;height:7px;line-height:7px;font-size:4.35px;padding:0 2.6px;border-radius:1.3px;background:rgba(38,191,148,0.1);color:#26bf94;">Singapore</div>
<div class="t" style="left:474.80px;top:562.52px;font-size:5.75px;line-height:5.75px;font-weight:400;color:#2e3036;">Feb 25 - Nov 25, 2023</div>
<div style="position:absolute;left:567.30px;top:558.60px;width:11.50px;height:11.50px;background:rgba(38,191,148,0.1);border-radius:2px;"></div>
<svg style="left:570.5px;top:561.8px" width="5" height="5" viewBox="0 0 24 24"><path d="M12 4 V13 M8 10 L12 14 L16 10 M4 15 V19 H20 V15" fill="none" stroke="#26bf94" stroke-width="3" stroke-linecap="round" stroke-linejoin="round"/></svg>
<div style="position:absolute;left:582.60px;top:558.60px;width:11.50px;height:11.50px;background:rgba(132,90,223,0.1);border-radius:2px;"></div>
<svg style="left:585.8px;top:561.6999999999999px" width="5" height="5" viewBox="0 0 24 24"><path d="M16 5 L8 15 M8 18 H17" fill="none" stroke="#845adf" stroke-width="3.6" stroke-linecap="round"/></svg>
<div class="hb" style="left:107px;top:584.6px;width:514px;"></div>
<div class="t" style="left:115.00px;top:595.73px;font-size:5.75px;line-height:5.75px;font-weight:400;color:#3a3c42;">Showing 5 Entries</div>
<svg style="left:165.3px;top:595.9px" width="5.6" height="3.6" viewBox="0 0 11 7"><path d="M0 3.5 H10 M7 0.6 L10 3.5 L7 6.4" fill="none" stroke="#4a4d55" stroke-width="1"/></svg>
<div class="t" style="left:550.00px;top:596.00px;font-size:5.4px;line-height:5.4px;font-weight:400;color:#8c9097;">Prev</div>
<div style="position:absolute;left:566.20px;top:591.30px;width:12.10px;height:12.90px;background:#845adf;border-radius:2.6px;"></div>
<div class="t" style="left:572.30px;transform:translateX(-50%);top:595.95px;font-size:5.5px;line-height:5.5px;font-weight:400;color:#fff;">1</div>
<div class="t" style="left:585.30px;transform:translateX(-50%);top:595.95px;font-size:5.5px;line-height:5.5px;font-weight:400;color:#4a4d55;">2</div>
<div class="t" style="left:596.40px;top:596.00px;font-size:5.4px;line-height:5.4px;font-weight:400;color:#845adf;">next</div>
<div style="position:absolute;left:98.00px;top:621.20px;width:702.00px;height:14.80px;background:#fff;border-top:0.5px solid #ebebf0;box-sizing:border-box;"></div>
<div class="t" style="left:358.70px;top:630.08px;font-size:5.85px;line-height:5.85px;font-weight:400;color:#8c9097;">Copyright © 2023 <b style="color:#3b3b40">Ynex</b>. Designed with <span style="color:#e6533c">&#10084;</span> by <span style="color:#845adf;text-decoration:underline;">Spruko</span> All rights reserved</div>
</body></html>
